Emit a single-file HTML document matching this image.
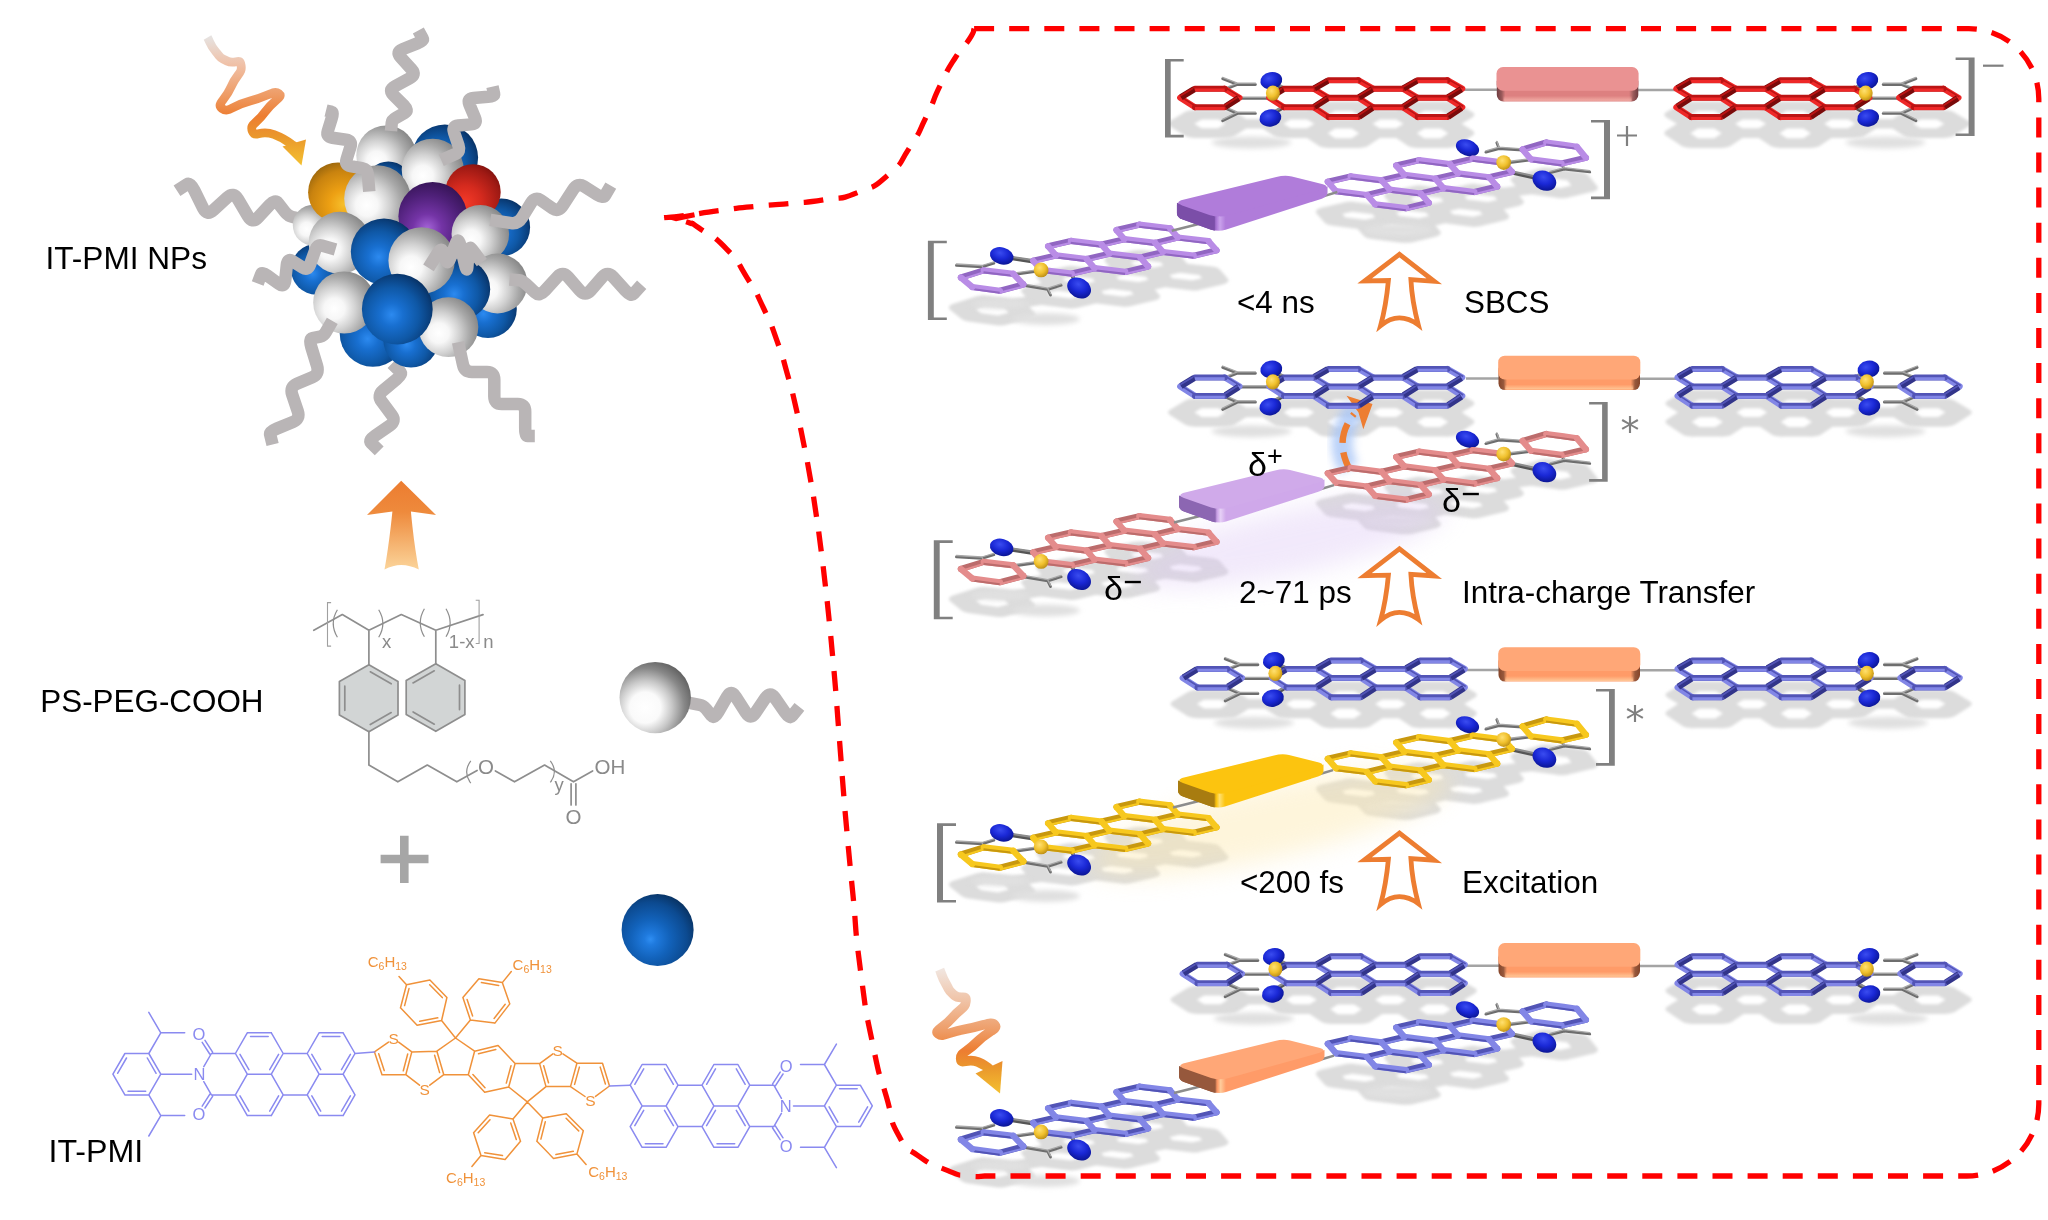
<!DOCTYPE html><html><head><meta charset="utf-8"><title>IT-PMI NPs</title><style>html,body{margin:0;padding:0;background:#fff}body{width:2048px;height:1220px;overflow:hidden;font-family:"Liberation Sans",sans-serif}</style></head><body><svg width="2048" height="1220" viewBox="0 0 2048 1220" style="display:block" font-family="Liberation Sans, sans-serif">
<defs>
<radialGradient id="gO" cx="0.4" cy="0.35" r="0.7"><stop offset="0" stop-color="#3a4cf0"/><stop offset="0.5" stop-color="#1a28d6"/><stop offset="1" stop-color="#0a1490"/></radialGradient>
<radialGradient id="gN" cx="0.4" cy="0.35" r="0.7"><stop offset="0" stop-color="#ffe070"/><stop offset="0.55" stop-color="#f0c02c"/><stop offset="1" stop-color="#b88a14"/></radialGradient>
<filter id="blur2" x="-10%" y="-30%" width="120%" height="160%"><feGaussianBlur stdDeviation="1.6"/></filter>
<filter id="blur3" x="-20%" y="-100%" width="140%" height="300%"><feGaussianBlur stdDeviation="2.6"/></filter>
<filter id="blur4" x="-100%" y="-50%" width="300%" height="200%"><feGaussianBlur stdDeviation="4"/></filter>
<filter id="blur12" x="-30%" y="-60%" width="160%" height="220%"><feGaussianBlur stdDeviation="12"/></filter>
</defs>

<defs><linearGradient id="gb_orange" x1="0" y1="0" x2="1" y2="0"><stop offset="0" stop-color="#85452a"/><stop offset="0.035" stop-color="#96583c"/><stop offset="0.06" stop-color="#ff9b68"/><stop offset="0.935" stop-color="#ff9b68"/><stop offset="0.965" stop-color="#96583c"/><stop offset="1" stop-color="#85452a"/></linearGradient><linearGradient id="gh_orange" x1="0" y1="0" x2="0" y2="1"><stop offset="0" stop-color="#ffcc9c" stop-opacity="0"/><stop offset="1" stop-color="#ffcc9c" stop-opacity="0.9"/></linearGradient><linearGradient id="gt_orange" gradientUnits="userSpaceOnUse" x1="1214" y1="0" x2="1226" y2="0"><stop offset="0" stop-color="#96583c"/><stop offset="0.3" stop-color="#ff9b68"/><stop offset="0.55" stop-color="#ffcc9c" stop-opacity="1"/><stop offset="1" stop-color="#ff9b68"/></linearGradient><linearGradient id="gb_rose" x1="0" y1="0" x2="1" y2="0"><stop offset="0" stop-color="#6e3c40"/><stop offset="0.035" stop-color="#9a5a5a"/><stop offset="0.06" stop-color="#dd8080"/><stop offset="0.935" stop-color="#dd8080"/><stop offset="0.965" stop-color="#9a5a5a"/><stop offset="1" stop-color="#6e3c40"/></linearGradient><linearGradient id="gh_rose" x1="0" y1="0" x2="0" y2="1"><stop offset="0" stop-color="#f4b0a8" stop-opacity="0"/><stop offset="1" stop-color="#f4b0a8" stop-opacity="0.9"/></linearGradient><linearGradient id="gt_rose" gradientUnits="userSpaceOnUse" x1="1214" y1="0" x2="1226" y2="0"><stop offset="0" stop-color="#9a5a5a"/><stop offset="0.3" stop-color="#dd8080"/><stop offset="0.55" stop-color="#f4b0a8" stop-opacity="1"/><stop offset="1" stop-color="#dd8080"/></linearGradient><linearGradient id="gb_purple" x1="0" y1="0" x2="1" y2="0"><stop offset="0" stop-color="#6a4494"/><stop offset="0.035" stop-color="#7b4ea8"/><stop offset="0.06" stop-color="#b07cda"/><stop offset="0.935" stop-color="#b07cda"/><stop offset="0.965" stop-color="#7b4ea8"/><stop offset="1" stop-color="#6a4494"/></linearGradient><linearGradient id="gh_purple" x1="0" y1="0" x2="0" y2="1"><stop offset="0" stop-color="#caa2ec" stop-opacity="0"/><stop offset="1" stop-color="#caa2ec" stop-opacity="0.9"/></linearGradient><linearGradient id="gt_purple" gradientUnits="userSpaceOnUse" x1="1214" y1="0" x2="1226" y2="0"><stop offset="0" stop-color="#7b4ea8"/><stop offset="0.3" stop-color="#b07cda"/><stop offset="0.55" stop-color="#caa2ec" stop-opacity="1"/><stop offset="1" stop-color="#b07cda"/></linearGradient><linearGradient id="gb_lilac" x1="0" y1="0" x2="1" y2="0"><stop offset="0" stop-color="#7a5a9c"/><stop offset="0.035" stop-color="#8c66b2"/><stop offset="0.06" stop-color="#cfa8ea"/><stop offset="0.935" stop-color="#cfa8ea"/><stop offset="0.965" stop-color="#8c66b2"/><stop offset="1" stop-color="#7a5a9c"/></linearGradient><linearGradient id="gh_lilac" x1="0" y1="0" x2="0" y2="1"><stop offset="0" stop-color="#e6d0f6" stop-opacity="0"/><stop offset="1" stop-color="#e6d0f6" stop-opacity="0.9"/></linearGradient><linearGradient id="gt_lilac" gradientUnits="userSpaceOnUse" x1="1214" y1="0" x2="1226" y2="0"><stop offset="0" stop-color="#8c66b2"/><stop offset="0.3" stop-color="#cfa8ea"/><stop offset="0.55" stop-color="#e6d0f6" stop-opacity="1"/><stop offset="1" stop-color="#cfa8ea"/></linearGradient><linearGradient id="gb_yellow" x1="0" y1="0" x2="1" y2="0"><stop offset="0" stop-color="#8a640a"/><stop offset="0.035" stop-color="#a87c10"/><stop offset="0.06" stop-color="#fcc40f"/><stop offset="0.935" stop-color="#fcc40f"/><stop offset="0.965" stop-color="#a87c10"/><stop offset="1" stop-color="#8a640a"/></linearGradient><linearGradient id="gh_yellow" x1="0" y1="0" x2="0" y2="1"><stop offset="0" stop-color="#ffe070" stop-opacity="0"/><stop offset="1" stop-color="#ffe070" stop-opacity="0.9"/></linearGradient><linearGradient id="gt_yellow" gradientUnits="userSpaceOnUse" x1="1214" y1="0" x2="1226" y2="0"><stop offset="0" stop-color="#a87c10"/><stop offset="0.3" stop-color="#fcc40f"/><stop offset="0.55" stop-color="#ffe070" stop-opacity="1"/><stop offset="1" stop-color="#fcc40f"/></linearGradient></defs>
<g filter="url(#blur2)"><g transform="translate(-2.5,-876)"><path d="M1331.1 2499.2L1316.2 2476.8 M1316.2 2476.8L1286.5 2476.8 M1286.5 2476.8L1271.7 2499.2 M1271.7 2499.2L1286.5 2522.9 M1286.5 2522.9L1316.2 2522.9 M1316.2 2522.9L1331.1 2499.2 M1375.7 2476.8L1360.8 2455.5 M1360.8 2455.5L1331.1 2455.5 M1331.1 2455.5L1316.2 2476.8 M1331.1 2499.2L1360.8 2499.2 M1360.8 2499.2L1375.7 2476.8 M1375.7 2522.9L1360.8 2499.2 M1316.2 2522.9L1331.1 2547.8 M1331.1 2547.8L1360.8 2547.8 M1360.8 2547.8L1375.7 2522.9 M1464.8 2476.8L1449.9 2455.5 M1449.9 2455.5L1420.2 2455.5 M1420.2 2455.5L1405.3 2476.8 M1405.3 2476.8L1420.2 2499.2 M1420.2 2499.2L1449.9 2499.2 M1449.9 2499.2L1464.8 2476.8 M1464.8 2522.9L1449.9 2499.2 M1420.2 2499.2L1405.3 2522.9 M1405.3 2522.9L1420.2 2547.8 M1420.2 2547.8L1449.9 2547.8 M1449.9 2547.8L1464.8 2522.9 M1405.3 2476.8L1375.7 2476.8 M1375.7 2522.9L1405.3 2522.9 M1242 2499.2L1227.2 2476.8 M1227.2 2476.8L1197.5 2476.8 M1197.5 2476.8L1182.6 2499.2 M1182.6 2499.2L1197.5 2522.9 M1197.5 2522.9L1227.2 2522.9 M1227.2 2522.9L1242 2499.2 M1271.7 2499.2L1242 2499.2" stroke="#dcdcdc" stroke-width="24" fill="none" stroke-linecap="round" stroke-linejoin="round" transform="scale(1,0.4)"/></g><g transform="translate(-1.2,-876)"><path d="M1811.2 2499.2L1826 2476.8 M1826 2476.8L1855.8 2476.8 M1855.8 2476.8L1870.6 2499.2 M1870.6 2499.2L1855.8 2522.9 M1855.8 2522.9L1826 2522.9 M1826 2522.9L1811.2 2499.2 M1766.6 2476.8L1781.5 2455.5 M1781.5 2455.5L1811.2 2455.5 M1811.2 2455.5L1826 2476.8 M1811.2 2499.2L1781.5 2499.2 M1781.5 2499.2L1766.6 2476.8 M1766.6 2522.9L1781.5 2499.2 M1826 2522.9L1811.2 2547.8 M1811.2 2547.8L1781.5 2547.8 M1781.5 2547.8L1766.6 2522.9 M1677.5 2476.8L1692.4 2455.5 M1692.4 2455.5L1722.1 2455.5 M1722.1 2455.5L1737 2476.8 M1737 2476.8L1722.1 2499.2 M1722.1 2499.2L1692.4 2499.2 M1692.4 2499.2L1677.5 2476.8 M1677.5 2522.9L1692.4 2499.2 M1722.1 2499.2L1737 2522.9 M1737 2522.9L1722.1 2547.8 M1722.1 2547.8L1692.4 2547.8 M1692.4 2547.8L1677.5 2522.9 M1737 2476.8L1766.6 2476.8 M1766.6 2522.9L1737 2522.9 M1900.3 2499.2L1915.1 2476.8 M1915.1 2476.8L1944.8 2476.8 M1944.8 2476.8L1959.7 2499.2 M1959.7 2499.2L1944.8 2522.9 M1944.8 2522.9L1915.1 2522.9 M1915.1 2522.9L1900.3 2499.2 M1870.6 2499.2L1900.3 2499.2" stroke="#dcdcdc" stroke-width="24" fill="none" stroke-linecap="round" stroke-linejoin="round" transform="scale(1,0.4)"/></g></g>
<g filter="url(#blur2)"><g transform="translate(0,-862)"><path d="M1086.7 2877.7L1056 2868.5 M1056 2868.5L1033.2 2882 M1033.2 2882L1041.1 2904.7 M1041.1 2904.7L1071.8 2914 M1071.8 2914L1094.6 2900.5 M1094.6 2900.5L1086.7 2877.7 M1101.6 2841.5L1070.9 2832.3 M1070.9 2832.3L1048.1 2845.8 M1048.1 2845.8L1056 2868.5 M1086.7 2877.7L1109.5 2864.2 M1109.5 2864.2L1101.6 2841.5 M1140.2 2873.5L1109.5 2864.2 M1094.6 2900.5L1125.3 2909.7 M1125.3 2909.7L1148.1 2896.2 M1148.1 2896.2L1140.2 2873.5 M1170 2801L1139.3 2791.8 M1139.3 2791.8L1116.5 2805.3 M1116.5 2805.3L1124.4 2828 M1124.4 2828L1155.1 2837.2 M1155.1 2837.2L1177.9 2823.8 M1177.9 2823.8L1170 2801 M1208.6 2833L1177.9 2823.8 M1155.1 2837.2L1163 2860 M1163 2860L1193.7 2869.2 M1193.7 2869.2L1216.5 2855.7 M1216.5 2855.7L1208.6 2833 M1124.4 2828L1101.6 2841.5 M1140.2 2873.5L1163 2860 M1013.3 2914.5L983.7 2906 M983.7 2906L960.9 2923.9 M960.9 2923.9L972.3 2947.4 M972.3 2947.4L999.9 2956.8 M999.9 2956.8L1023.4 2941.4 M1023.4 2941.4L1013.3 2914.5 M1041.1 2904.7L1013.3 2914.5" stroke="#dcdcdc" stroke-width="24" fill="none" stroke-linecap="round" stroke-linejoin="round" transform="scale(1,0.4)"/></g><g transform="translate(0,-862)"><path d="M1458.1 2663.5L1449.9 2640.3 M1449.9 2640.3L1472.7 2626.8 M1472.7 2626.8L1503.7 2636.5 M1503.7 2636.5L1511.9 2659.7 M1511.9 2659.7L1489.1 2673.2 M1489.1 2673.2L1458.1 2663.5 M1404.3 2667.3L1396.2 2644.1 M1396.2 2644.1L1419 2630.6 M1419 2630.6L1449.9 2640.3 M1458.1 2663.5L1435.3 2677 M1435.3 2677L1404.3 2667.3 M1443.5 2700.2L1435.3 2677 M1489.1 2673.2L1497.2 2696.4 M1497.2 2696.4L1474.4 2709.9 M1474.4 2709.9L1443.5 2700.2 M1335.9 2707.8L1327.8 2684.6 M1327.8 2684.6L1350.6 2671.1 M1350.6 2671.1L1381.5 2680.8 M1381.5 2680.8L1389.7 2704 M1389.7 2704L1366.9 2717.5 M1366.9 2717.5L1335.9 2707.8 M1375.1 2740.7L1366.9 2717.5 M1389.7 2704L1420.7 2713.7 M1420.7 2713.7L1428.8 2736.9 M1428.8 2736.9L1406 2750.4 M1406 2750.4L1375.1 2740.7 M1381.5 2680.8L1404.3 2667.3 M1443.5 2700.2L1420.7 2713.7 M1530.9 2627.9L1522.6 2603.6 M1522.6 2603.6L1546.2 2586.2 M1546.2 2586.2L1576.9 2596.6 M1576.9 2596.6L1585.9 2624.5 M1585.9 2624.5L1561.6 2638.4 M1561.6 2638.4L1530.9 2627.9 M1503.7 2636.5L1530.9 2627.9" stroke="#dcdcdc" stroke-width="24" fill="none" stroke-linecap="round" stroke-linejoin="round" transform="scale(1,0.4)"/></g></g>
<g filter="url(#blur3)" fill="#e0e0e0"><ellipse cx="1251.5" cy="142.5" rx="40" ry="6"/><ellipse cx="1885.5" cy="142.5" rx="40" ry="6"/><ellipse cx="1046" cy="319" rx="34" ry="6"/><ellipse cx="1398" cy="230" rx="34" ry="6.500"/><ellipse cx="1000" cy="304" rx="30" ry="5"/></g>
<g filter="url(#blur2)"><g transform="translate(-2.5,-587.3)"><path d="M1331.1 2499.2L1316.2 2476.8 M1316.2 2476.8L1286.5 2476.8 M1286.5 2476.8L1271.7 2499.2 M1271.7 2499.2L1286.5 2522.9 M1286.5 2522.9L1316.2 2522.9 M1316.2 2522.9L1331.1 2499.2 M1375.7 2476.8L1360.8 2455.5 M1360.8 2455.5L1331.1 2455.5 M1331.1 2455.5L1316.2 2476.8 M1331.1 2499.2L1360.8 2499.2 M1360.8 2499.2L1375.7 2476.8 M1375.7 2522.9L1360.8 2499.2 M1316.2 2522.9L1331.1 2547.8 M1331.1 2547.8L1360.8 2547.8 M1360.8 2547.8L1375.7 2522.9 M1464.8 2476.8L1449.9 2455.5 M1449.9 2455.5L1420.2 2455.5 M1420.2 2455.5L1405.3 2476.8 M1405.3 2476.8L1420.2 2499.2 M1420.2 2499.2L1449.9 2499.2 M1449.9 2499.2L1464.8 2476.8 M1464.8 2522.9L1449.9 2499.2 M1420.2 2499.2L1405.3 2522.9 M1405.3 2522.9L1420.2 2547.8 M1420.2 2547.8L1449.9 2547.8 M1449.9 2547.8L1464.8 2522.9 M1405.3 2476.8L1375.7 2476.8 M1375.7 2522.9L1405.3 2522.9 M1242 2499.2L1227.2 2476.8 M1227.2 2476.8L1197.5 2476.8 M1197.5 2476.8L1182.6 2499.2 M1182.6 2499.2L1197.5 2522.9 M1197.5 2522.9L1227.2 2522.9 M1227.2 2522.9L1242 2499.2 M1271.7 2499.2L1242 2499.2" stroke="#dcdcdc" stroke-width="24" fill="none" stroke-linecap="round" stroke-linejoin="round" transform="scale(1,0.4)"/></g><g transform="translate(0,-587.3)"><path d="M1811.2 2499.2L1826 2476.8 M1826 2476.8L1855.8 2476.8 M1855.8 2476.8L1870.6 2499.2 M1870.6 2499.2L1855.8 2522.9 M1855.8 2522.9L1826 2522.9 M1826 2522.9L1811.2 2499.2 M1766.6 2476.8L1781.5 2455.5 M1781.5 2455.5L1811.2 2455.5 M1811.2 2455.5L1826 2476.8 M1811.2 2499.2L1781.5 2499.2 M1781.5 2499.2L1766.6 2476.8 M1766.6 2522.9L1781.5 2499.2 M1826 2522.9L1811.2 2547.8 M1811.2 2547.8L1781.5 2547.8 M1781.5 2547.8L1766.6 2522.9 M1677.5 2476.8L1692.4 2455.5 M1692.4 2455.5L1722.1 2455.5 M1722.1 2455.5L1737 2476.8 M1737 2476.8L1722.1 2499.2 M1722.1 2499.2L1692.4 2499.2 M1692.4 2499.2L1677.5 2476.8 M1677.5 2522.9L1692.4 2499.2 M1722.1 2499.2L1737 2522.9 M1737 2522.9L1722.1 2547.8 M1722.1 2547.8L1692.4 2547.8 M1692.4 2547.8L1677.5 2522.9 M1737 2476.8L1766.6 2476.8 M1766.6 2522.9L1737 2522.9 M1900.3 2499.2L1915.1 2476.8 M1915.1 2476.8L1944.8 2476.8 M1944.8 2476.8L1959.7 2499.2 M1959.7 2499.2L1944.8 2522.9 M1944.8 2522.9L1915.1 2522.9 M1915.1 2522.9L1900.3 2499.2 M1870.6 2499.2L1900.3 2499.2" stroke="#dcdcdc" stroke-width="24" fill="none" stroke-linecap="round" stroke-linejoin="round" transform="scale(1,0.4)"/></g></g>
<g filter="url(#blur2)"><g transform="translate(0,-570.5)"><path d="M1086.7 2877.7L1056 2868.5 M1056 2868.5L1033.2 2882 M1033.2 2882L1041.1 2904.7 M1041.1 2904.7L1071.8 2914 M1071.8 2914L1094.6 2900.5 M1094.6 2900.5L1086.7 2877.7 M1101.6 2841.5L1070.9 2832.3 M1070.9 2832.3L1048.1 2845.8 M1048.1 2845.8L1056 2868.5 M1086.7 2877.7L1109.5 2864.2 M1109.5 2864.2L1101.6 2841.5 M1140.2 2873.5L1109.5 2864.2 M1094.6 2900.5L1125.3 2909.7 M1125.3 2909.7L1148.1 2896.2 M1148.1 2896.2L1140.2 2873.5 M1170 2801L1139.3 2791.8 M1139.3 2791.8L1116.5 2805.3 M1116.5 2805.3L1124.4 2828 M1124.4 2828L1155.1 2837.2 M1155.1 2837.2L1177.9 2823.8 M1177.9 2823.8L1170 2801 M1208.6 2833L1177.9 2823.8 M1155.1 2837.2L1163 2860 M1163 2860L1193.7 2869.2 M1193.7 2869.2L1216.5 2855.7 M1216.5 2855.7L1208.6 2833 M1124.4 2828L1101.6 2841.5 M1140.2 2873.5L1163 2860 M1013.3 2914.5L983.7 2906 M983.7 2906L960.9 2923.9 M960.9 2923.9L972.3 2947.4 M972.3 2947.4L999.9 2956.8 M999.9 2956.8L1023.4 2941.4 M1023.4 2941.4L1013.3 2914.5 M1041.1 2904.7L1013.3 2914.5" stroke="#dcdcdc" stroke-width="24" fill="none" stroke-linecap="round" stroke-linejoin="round" transform="scale(1,0.4)"/></g><g transform="translate(0,-570.5)"><path d="M1458.1 2663.5L1449.9 2640.3 M1449.9 2640.3L1472.7 2626.8 M1472.7 2626.8L1503.7 2636.5 M1503.7 2636.5L1511.9 2659.7 M1511.9 2659.7L1489.1 2673.2 M1489.1 2673.2L1458.1 2663.5 M1404.3 2667.3L1396.2 2644.1 M1396.2 2644.1L1419 2630.6 M1419 2630.6L1449.9 2640.3 M1458.1 2663.5L1435.3 2677 M1435.3 2677L1404.3 2667.3 M1443.5 2700.2L1435.3 2677 M1489.1 2673.2L1497.2 2696.4 M1497.2 2696.4L1474.4 2709.9 M1474.4 2709.9L1443.5 2700.2 M1335.9 2707.8L1327.8 2684.6 M1327.8 2684.6L1350.6 2671.1 M1350.6 2671.1L1381.5 2680.8 M1381.5 2680.8L1389.7 2704 M1389.7 2704L1366.9 2717.5 M1366.9 2717.5L1335.9 2707.8 M1375.1 2740.7L1366.9 2717.5 M1389.7 2704L1420.7 2713.7 M1420.7 2713.7L1428.8 2736.9 M1428.8 2736.9L1406 2750.4 M1406 2750.4L1375.1 2740.7 M1381.5 2680.8L1404.3 2667.3 M1443.5 2700.2L1420.7 2713.7 M1530.9 2627.9L1522.6 2603.6 M1522.6 2603.6L1546.2 2586.2 M1546.2 2586.2L1576.9 2596.6 M1576.9 2596.6L1585.9 2624.5 M1585.9 2624.5L1561.6 2638.4 M1561.6 2638.4L1530.9 2627.9 M1503.7 2636.5L1530.9 2627.9" stroke="#dcdcdc" stroke-width="24" fill="none" stroke-linecap="round" stroke-linejoin="round" transform="scale(1,0.4)"/></g></g>
<g filter="url(#blur3)" fill="#e0e0e0"><ellipse cx="1251.5" cy="431.2" rx="40" ry="6"/><ellipse cx="1885.5" cy="431.2" rx="40" ry="6"/><ellipse cx="1046" cy="610.5" rx="34" ry="6"/><ellipse cx="1398" cy="521.5" rx="34" ry="6.500"/><ellipse cx="1000" cy="595.5" rx="30" ry="5"/></g>
<g filter="url(#blur2)"><g transform="translate(0,-295.8)"><path d="M1331.1 2499.2L1316.2 2476.8 M1316.2 2476.8L1286.5 2476.8 M1286.5 2476.8L1271.7 2499.2 M1271.7 2499.2L1286.5 2522.9 M1286.5 2522.9L1316.2 2522.9 M1316.2 2522.9L1331.1 2499.2 M1375.7 2476.8L1360.8 2455.5 M1360.8 2455.5L1331.1 2455.5 M1331.1 2455.5L1316.2 2476.8 M1331.1 2499.2L1360.8 2499.2 M1360.8 2499.2L1375.7 2476.8 M1375.7 2522.9L1360.8 2499.2 M1316.2 2522.9L1331.1 2547.8 M1331.1 2547.8L1360.8 2547.8 M1360.8 2547.8L1375.7 2522.9 M1464.8 2476.8L1449.9 2455.5 M1449.9 2455.5L1420.2 2455.5 M1420.2 2455.5L1405.3 2476.8 M1405.3 2476.8L1420.2 2499.2 M1420.2 2499.2L1449.9 2499.2 M1449.9 2499.2L1464.8 2476.8 M1464.8 2522.9L1449.9 2499.2 M1420.2 2499.2L1405.3 2522.9 M1405.3 2522.9L1420.2 2547.8 M1420.2 2547.8L1449.9 2547.8 M1449.9 2547.8L1464.8 2522.9 M1405.3 2476.8L1375.7 2476.8 M1375.7 2522.9L1405.3 2522.9 M1242 2499.2L1227.2 2476.8 M1227.2 2476.8L1197.5 2476.8 M1197.5 2476.8L1182.6 2499.2 M1182.6 2499.2L1197.5 2522.9 M1197.5 2522.9L1227.2 2522.9 M1227.2 2522.9L1242 2499.2 M1271.7 2499.2L1242 2499.2" stroke="#dcdcdc" stroke-width="24" fill="none" stroke-linecap="round" stroke-linejoin="round" transform="scale(1,0.4)"/></g><g transform="translate(0,-295.8)"><path d="M1811.2 2499.2L1826 2476.8 M1826 2476.8L1855.8 2476.8 M1855.8 2476.8L1870.6 2499.2 M1870.6 2499.2L1855.8 2522.9 M1855.8 2522.9L1826 2522.9 M1826 2522.9L1811.2 2499.2 M1766.6 2476.8L1781.5 2455.5 M1781.5 2455.5L1811.2 2455.5 M1811.2 2455.5L1826 2476.8 M1811.2 2499.2L1781.5 2499.2 M1781.5 2499.2L1766.6 2476.8 M1766.6 2522.9L1781.5 2499.2 M1826 2522.9L1811.2 2547.8 M1811.2 2547.8L1781.5 2547.8 M1781.5 2547.8L1766.6 2522.9 M1677.5 2476.8L1692.4 2455.5 M1692.4 2455.5L1722.1 2455.5 M1722.1 2455.5L1737 2476.8 M1737 2476.8L1722.1 2499.2 M1722.1 2499.2L1692.4 2499.2 M1692.4 2499.2L1677.5 2476.8 M1677.5 2522.9L1692.4 2499.2 M1722.1 2499.2L1737 2522.9 M1737 2522.9L1722.1 2547.8 M1722.1 2547.8L1692.4 2547.8 M1692.4 2547.8L1677.5 2522.9 M1737 2476.8L1766.6 2476.8 M1766.6 2522.9L1737 2522.9 M1900.3 2499.2L1915.1 2476.8 M1915.1 2476.8L1944.8 2476.8 M1944.8 2476.8L1959.7 2499.2 M1959.7 2499.2L1944.8 2522.9 M1944.8 2522.9L1915.1 2522.9 M1915.1 2522.9L1900.3 2499.2 M1870.6 2499.2L1900.3 2499.2" stroke="#dcdcdc" stroke-width="24" fill="none" stroke-linecap="round" stroke-linejoin="round" transform="scale(1,0.4)"/></g></g>
<g filter="url(#blur2)"><g transform="translate(0,-285)"><path d="M1086.7 2877.7L1056 2868.5 M1056 2868.5L1033.2 2882 M1033.2 2882L1041.1 2904.7 M1041.1 2904.7L1071.8 2914 M1071.8 2914L1094.6 2900.5 M1094.6 2900.5L1086.7 2877.7 M1101.6 2841.5L1070.9 2832.3 M1070.9 2832.3L1048.1 2845.8 M1048.1 2845.8L1056 2868.5 M1086.7 2877.7L1109.5 2864.2 M1109.5 2864.2L1101.6 2841.5 M1140.2 2873.5L1109.5 2864.2 M1094.6 2900.5L1125.3 2909.7 M1125.3 2909.7L1148.1 2896.2 M1148.1 2896.2L1140.2 2873.5 M1170 2801L1139.3 2791.8 M1139.3 2791.8L1116.5 2805.3 M1116.5 2805.3L1124.4 2828 M1124.4 2828L1155.1 2837.2 M1155.1 2837.2L1177.9 2823.8 M1177.9 2823.8L1170 2801 M1208.6 2833L1177.9 2823.8 M1155.1 2837.2L1163 2860 M1163 2860L1193.7 2869.2 M1193.7 2869.2L1216.5 2855.7 M1216.5 2855.7L1208.6 2833 M1124.4 2828L1101.6 2841.5 M1140.2 2873.5L1163 2860 M1013.3 2914.5L983.7 2906 M983.7 2906L960.9 2923.9 M960.9 2923.9L972.3 2947.4 M972.3 2947.4L999.9 2956.8 M999.9 2956.8L1023.4 2941.4 M1023.4 2941.4L1013.3 2914.5 M1041.1 2904.7L1013.3 2914.5" stroke="#dcdcdc" stroke-width="24" fill="none" stroke-linecap="round" stroke-linejoin="round" transform="scale(1,0.4)"/></g><g transform="translate(0,-285)"><path d="M1458.1 2663.5L1449.9 2640.3 M1449.9 2640.3L1472.7 2626.8 M1472.7 2626.8L1503.7 2636.5 M1503.7 2636.5L1511.9 2659.7 M1511.9 2659.7L1489.1 2673.2 M1489.1 2673.2L1458.1 2663.5 M1404.3 2667.3L1396.2 2644.1 M1396.2 2644.1L1419 2630.6 M1419 2630.6L1449.9 2640.3 M1458.1 2663.5L1435.3 2677 M1435.3 2677L1404.3 2667.3 M1443.5 2700.2L1435.3 2677 M1489.1 2673.2L1497.2 2696.4 M1497.2 2696.4L1474.4 2709.9 M1474.4 2709.9L1443.5 2700.2 M1335.9 2707.8L1327.8 2684.6 M1327.8 2684.6L1350.6 2671.1 M1350.6 2671.1L1381.5 2680.8 M1381.5 2680.8L1389.7 2704 M1389.7 2704L1366.9 2717.5 M1366.9 2717.5L1335.9 2707.8 M1375.1 2740.7L1366.9 2717.5 M1389.7 2704L1420.7 2713.7 M1420.7 2713.7L1428.8 2736.9 M1428.8 2736.9L1406 2750.4 M1406 2750.4L1375.1 2740.7 M1381.5 2680.8L1404.3 2667.3 M1443.5 2700.2L1420.7 2713.7 M1530.9 2627.9L1522.6 2603.6 M1522.6 2603.6L1546.2 2586.2 M1546.2 2586.2L1576.9 2596.6 M1576.9 2596.6L1585.9 2624.5 M1585.9 2624.5L1561.6 2638.4 M1561.6 2638.4L1530.9 2627.9 M1503.7 2636.5L1530.9 2627.9" stroke="#dcdcdc" stroke-width="24" fill="none" stroke-linecap="round" stroke-linejoin="round" transform="scale(1,0.4)"/></g></g>
<g filter="url(#blur3)" fill="#e0e0e0"><ellipse cx="1254" cy="722.7" rx="40" ry="6"/><ellipse cx="1888" cy="722.7" rx="40" ry="6"/><ellipse cx="1046" cy="896" rx="34" ry="6"/><ellipse cx="1398" cy="807" rx="34" ry="6.500"/><ellipse cx="1000" cy="881" rx="30" ry="5"/></g>
<g filter="url(#blur2)"><g transform="translate(0,0)"><path d="M1331.1 2499.2L1316.2 2476.8 M1316.2 2476.8L1286.5 2476.8 M1286.5 2476.8L1271.7 2499.2 M1271.7 2499.2L1286.5 2522.9 M1286.5 2522.9L1316.2 2522.9 M1316.2 2522.9L1331.1 2499.2 M1375.7 2476.8L1360.8 2455.5 M1360.8 2455.5L1331.1 2455.5 M1331.1 2455.5L1316.2 2476.8 M1331.1 2499.2L1360.8 2499.2 M1360.8 2499.2L1375.7 2476.8 M1375.7 2522.9L1360.8 2499.2 M1316.2 2522.9L1331.1 2547.8 M1331.1 2547.8L1360.8 2547.8 M1360.8 2547.8L1375.7 2522.9 M1464.8 2476.8L1449.9 2455.5 M1449.9 2455.5L1420.2 2455.5 M1420.2 2455.5L1405.3 2476.8 M1405.3 2476.8L1420.2 2499.2 M1420.2 2499.2L1449.9 2499.2 M1449.9 2499.2L1464.8 2476.8 M1464.8 2522.9L1449.9 2499.2 M1420.2 2499.2L1405.3 2522.9 M1405.3 2522.9L1420.2 2547.8 M1420.2 2547.8L1449.9 2547.8 M1449.9 2547.8L1464.8 2522.9 M1405.3 2476.8L1375.7 2476.8 M1375.7 2522.9L1405.3 2522.9 M1242 2499.2L1227.2 2476.8 M1227.2 2476.8L1197.5 2476.8 M1197.5 2476.8L1182.6 2499.2 M1182.6 2499.2L1197.5 2522.9 M1197.5 2522.9L1227.2 2522.9 M1227.2 2522.9L1242 2499.2 M1271.7 2499.2L1242 2499.2" stroke="#dcdcdc" stroke-width="24" fill="none" stroke-linecap="round" stroke-linejoin="round" transform="scale(1,0.4)"/></g><g transform="translate(0,0)"><path d="M1811.2 2499.2L1826 2476.8 M1826 2476.8L1855.8 2476.8 M1855.8 2476.8L1870.6 2499.2 M1870.6 2499.2L1855.8 2522.9 M1855.8 2522.9L1826 2522.9 M1826 2522.9L1811.2 2499.2 M1766.6 2476.8L1781.5 2455.5 M1781.5 2455.5L1811.2 2455.5 M1811.2 2455.5L1826 2476.8 M1811.2 2499.2L1781.5 2499.2 M1781.5 2499.2L1766.6 2476.8 M1766.6 2522.9L1781.5 2499.2 M1826 2522.9L1811.2 2547.8 M1811.2 2547.8L1781.5 2547.8 M1781.5 2547.8L1766.6 2522.9 M1677.5 2476.8L1692.4 2455.5 M1692.4 2455.5L1722.1 2455.5 M1722.1 2455.5L1737 2476.8 M1737 2476.8L1722.1 2499.2 M1722.1 2499.2L1692.4 2499.2 M1692.4 2499.2L1677.5 2476.8 M1677.5 2522.9L1692.4 2499.2 M1722.1 2499.2L1737 2522.9 M1737 2522.9L1722.1 2547.8 M1722.1 2547.8L1692.4 2547.8 M1692.4 2547.8L1677.5 2522.9 M1737 2476.8L1766.6 2476.8 M1766.6 2522.9L1737 2522.9 M1900.3 2499.2L1915.1 2476.8 M1915.1 2476.8L1944.8 2476.8 M1944.8 2476.8L1959.7 2499.2 M1959.7 2499.2L1944.8 2522.9 M1944.8 2522.9L1915.1 2522.9 M1915.1 2522.9L1900.3 2499.2 M1870.6 2499.2L1900.3 2499.2" stroke="#dcdcdc" stroke-width="24" fill="none" stroke-linecap="round" stroke-linejoin="round" transform="scale(1,0.4)"/></g></g>
<g filter="url(#blur2)"><g transform="translate(0,0)"><path d="M1086.7 2877.7L1056 2868.5 M1056 2868.5L1033.2 2882 M1033.2 2882L1041.1 2904.7 M1041.1 2904.7L1071.8 2914 M1071.8 2914L1094.6 2900.5 M1094.6 2900.5L1086.7 2877.7 M1101.6 2841.5L1070.9 2832.3 M1070.9 2832.3L1048.1 2845.8 M1048.1 2845.8L1056 2868.5 M1086.7 2877.7L1109.5 2864.2 M1109.5 2864.2L1101.6 2841.5 M1140.2 2873.5L1109.5 2864.2 M1094.6 2900.5L1125.3 2909.7 M1125.3 2909.7L1148.1 2896.2 M1148.1 2896.2L1140.2 2873.5 M1170 2801L1139.3 2791.8 M1139.3 2791.8L1116.5 2805.3 M1116.5 2805.3L1124.4 2828 M1124.4 2828L1155.1 2837.2 M1155.1 2837.2L1177.9 2823.8 M1177.9 2823.8L1170 2801 M1208.6 2833L1177.9 2823.8 M1155.1 2837.2L1163 2860 M1163 2860L1193.7 2869.2 M1193.7 2869.2L1216.5 2855.7 M1216.5 2855.7L1208.6 2833 M1124.4 2828L1101.6 2841.5 M1140.2 2873.5L1163 2860 M1013.3 2914.5L983.7 2906 M983.7 2906L960.9 2923.9 M960.9 2923.9L972.3 2947.4 M972.3 2947.4L999.9 2956.8 M999.9 2956.8L1023.4 2941.4 M1023.4 2941.4L1013.3 2914.5 M1041.1 2904.7L1013.3 2914.5" stroke="#dcdcdc" stroke-width="24" fill="none" stroke-linecap="round" stroke-linejoin="round" transform="scale(1,0.4)"/></g><g transform="translate(0,0)"><path d="M1458.1 2663.5L1449.9 2640.3 M1449.9 2640.3L1472.7 2626.8 M1472.7 2626.8L1503.7 2636.5 M1503.7 2636.5L1511.9 2659.7 M1511.9 2659.7L1489.1 2673.2 M1489.1 2673.2L1458.1 2663.5 M1404.3 2667.3L1396.2 2644.1 M1396.2 2644.1L1419 2630.6 M1419 2630.6L1449.9 2640.3 M1458.1 2663.5L1435.3 2677 M1435.3 2677L1404.3 2667.3 M1443.5 2700.2L1435.3 2677 M1489.1 2673.2L1497.2 2696.4 M1497.2 2696.4L1474.4 2709.9 M1474.4 2709.9L1443.5 2700.2 M1335.9 2707.8L1327.8 2684.6 M1327.8 2684.6L1350.6 2671.1 M1350.6 2671.1L1381.5 2680.8 M1381.5 2680.8L1389.7 2704 M1389.7 2704L1366.9 2717.5 M1366.9 2717.5L1335.9 2707.8 M1375.1 2740.7L1366.9 2717.5 M1389.7 2704L1420.7 2713.7 M1420.7 2713.7L1428.8 2736.9 M1428.8 2736.9L1406 2750.4 M1406 2750.4L1375.1 2740.7 M1381.5 2680.8L1404.3 2667.3 M1443.5 2700.2L1420.7 2713.7 M1530.9 2627.9L1522.6 2603.6 M1522.6 2603.6L1546.2 2586.2 M1546.2 2586.2L1576.9 2596.6 M1576.9 2596.6L1585.9 2624.5 M1585.9 2624.5L1561.6 2638.4 M1561.6 2638.4L1530.9 2627.9 M1503.7 2636.5L1530.9 2627.9" stroke="#dcdcdc" stroke-width="24" fill="none" stroke-linecap="round" stroke-linejoin="round" transform="scale(1,0.4)"/></g></g>
<g filter="url(#blur3)" fill="#e0e0e0"><ellipse cx="1254" cy="1018.5" rx="40" ry="6"/><ellipse cx="1888" cy="1018.5" rx="40" ry="6"/><ellipse cx="1046" cy="1181" rx="34" ry="6"/><ellipse cx="1398" cy="1092" rx="34" ry="6.500"/><ellipse cx="1000" cy="1166" rx="30" ry="5"/></g>
<ellipse cx="1290" cy="542" rx="160" ry="32" fill="#dcc6f4" opacity="0.38" filter="url(#blur12)" transform="rotate(-12 1290 542)"/>
<ellipse cx="1270" cy="822" rx="185" ry="36" fill="#fde9b0" opacity="0.45" filter="url(#blur12)" transform="rotate(-13 1270 822)"/>
<path d="M664.1 217.7 C671 217 666.4 218 684.9 215.6 C703.4 213.2 696.5 213.7 719.7 210.6 C742.9 207.5 731.4 208.8 754.6 206.4 C777.8 204 766.2 205.7 789.4 203.5 C812.6 201.3 801.3 203.5 824.3 199.8 C847.3 196.1 836.9 200.7 858.3 192.3 C879.7 183.9 871.4 189.5 888.5 174.6 C905.6 159.7 896.9 167 909.6 147.6 C922.3 128.2 916.2 137.3 926.5 116.3 C936.8 95.3 930.9 104.2 940.6 84.5 C950.3 64.8 945.9 72.4 955.6 57.2 C965.3 42 963.4 48.3 969.6 38.8 C975.8 29.3 972.6 32.1 974.1 28.7" fill="none" stroke="#ff0000" stroke-width="5.3" stroke-dasharray="20 15.100"/>
<path d="M974.1 28.7 L1968.8 28.7 A70 70 0 0 1 2038.8 98.7 L2038.8 1104 A72 72 0 0 1 1966.8 1176 L985 1176 985 1176  C979.2 1175.9 980 1177.6 967.6 1175.8 C955.2 1174 964.3 1177.3 947.9 1170.6 C931.5 1163.9 934.7 1167.3 918.4 1155.8 C902.1 1144.3 909.7 1155.7 899 1136 C888.3 1116.3 895.1 1127.1 886.4 1096.8 C877.7 1066.5 881.5 1086.8 872.9 1045 C864.3 1003.2 867.2 1021.2 860.6 971.3 C854 921.4 856.7 932.1 853 895.3 C849.3 858.5 851.8 883.9 849.6 860.8 C847.4 837.7 848.5 849.3 846.4 826 C844.3 802.7 845.3 814.2 843.4 790.8 C841.5 767.4 842.5 779 840.7 755.7 C838.9 732.4 839.8 744.1 838 720.8 C836.2 697.5 837.3 709.3 835.3 685.9 C833.3 662.5 834.3 674.1 832.1 650.7 C829.9 627.3 831.1 639.1 828.7 615.8 C826.3 592.5 827.5 603.9 824.8 580.7 C822.1 557.5 823.6 569.4 820.6 546.3 C817.6 523.2 819.2 534.6 815.7 511.4 C812.2 488.2 814.1 499.7 810 476.7 C805.9 453.7 808.1 465.2 803.4 442.3 C798.7 419.4 801.3 430.6 796 407.9 C790.7 385.2 793.7 396.5 787.4 374.2 C781.1 351.9 784.9 362.8 777 340.9 C769.1 319 773.7 329.5 763.7 308.5 C753.7 287.5 759.5 297.7 747.1 277.8 C734.7 257.9 742.4 265.4 726.4 248.8 C710.4 232.2 711.2 236.6 699 228 C686.8 219.4 696.8 225.7 689.8 223 C682.8 220.3 681.9 221 678 220" fill="none" stroke="#ff0000" stroke-width="5.3" stroke-dasharray="20 15.100"/>
<path d="M663.5 217.800 L694 212.300 L695 217.200 L676 221.200 Z" fill="#ff0000"/>
<path d="M1349 468 Q1332 440 1356 408" fill="none" stroke="#a9c6f7" stroke-width="21" stroke-linecap="butt" opacity="0.8" filter="url(#blur4)"/>
<path d="M1350.500 471 Q1333 440 1354 414" fill="none" stroke="#ed7d31" stroke-width="6.4" stroke-dasharray="20 9.500"/>
<path d="M1372.500 404 L1346.500 395.800 L1358.500 412.500 L1363.300 429.300 Z" fill="#ed7d31"/>
<g transform="translate(-1.7,-876)"><line x1="1466" y1="965.8" x2="1500" y2="965.8" stroke="#a4a4a4" stroke-width="2.4"/><line x1="1639" y1="966" x2="1677" y2="966" stroke="#a4a4a4" stroke-width="2.4"/><rect x="1498.5" y="951" width="141.5" height="26.4" rx="6.500" fill="url(#gb_rose)"/><rect x="1505.2" y="971.8" width="128.1" height="5" fill="url(#gh_rose)"/><rect x="1498.2" y="943" width="142.1" height="23.7" rx="6.500" fill="#ea9292"/></g>
<g transform="translate(-2.5,-876)"><path d="M1271.7 973.7L1242 973.7 M1227.2 964.7L1239.9 959.8 M1239.9 959.8L1258 959.8 M1239.9 959.8L1225.1 953.9 M1227.2 983.2L1239.9 988.7 M1239.9 988.7L1258 988.7 M1239.9 988.7L1225.1 996" stroke="#6e6e6e" stroke-width="2.7" fill="none" stroke-linecap="round" stroke-linejoin="round" transform="translate(0,0.8)"/><path d="M1271.7 973.7L1242 973.7 M1227.2 964.7L1239.9 959.8 M1239.9 959.8L1258 959.8 M1239.9 959.8L1225.1 953.9 M1227.2 983.2L1239.9 988.7 M1239.9 988.7L1258 988.7 M1239.9 988.7L1225.1 996" stroke="#a8a8a8" stroke-width="1.3" fill="none" stroke-linecap="round" stroke-linejoin="round" transform="translate(0,-0.6)"/><path d="M1286.5 963.9L1274.7 958 M1286.5 982.3L1274.7 989.1" stroke="#555" stroke-width="3.6" fill="none" stroke-linecap="round" stroke-linejoin="round" transform="translate(0,0.8)"/><path d="M1286.5 963.9L1274.7 958 M1286.5 982.3L1274.7 989.1" stroke="#8c8c8c" stroke-width="2.2" fill="none" stroke-linecap="round" stroke-linejoin="round" transform="translate(0,-0.6)"/><ellipse cx="1273.8" cy="956.6" rx="11" ry="8.6" fill="url(#gO)" transform="rotate(-10 1273.8 956.6)"/><path d="M1242 973.7L1227.2 964.7 M1182.6 973.7L1197.5 983.2" stroke="#ee2828" stroke-width="6" fill="none" stroke-linecap="round"/><path d="M1242 973.7L1227.2 964.7 M1182.6 973.7L1197.5 983.2" stroke="#bc1414" stroke-width="1.5" fill="none" stroke-linecap="butt" transform="translate(0.9,-0.9)"/><path d="M1227.2 964.7L1197.5 964.7 M1197.5 983.2L1227.2 983.2" stroke="#bc1414" stroke-width="6" fill="none" stroke-linecap="round"/><path d="M1227.2 964.7L1197.5 964.7 M1197.5 983.2L1227.2 983.2" stroke="#ee2828" stroke-width="3" fill="none" stroke-linecap="butt" transform="translate(0,1.4)"/><path d="M1196.6 965.3L1183.5 973.2 M1228 982.6L1241.1 974.3" stroke="#7a0a0a" stroke-width="6.4" fill="none" stroke-linecap="butt"/><path d="M1196.6 965.3L1183.5 973.2 M1228 982.6L1241.1 974.3" stroke="#bc1414" stroke-width="1.8" fill="none" stroke-linecap="butt" transform="translate(-1.1,-1.1)"/><path d="M1331.1 973.7L1316.2 964.7 M1271.7 973.7L1286.5 983.2 M1375.7 964.7L1360.8 956.2 M1375.7 983.2L1360.8 973.7 M1316.2 983.2L1331.1 993.1 M1464.8 964.7L1449.9 956.2 M1405.3 964.7L1420.2 973.7 M1464.8 983.2L1449.9 973.7 M1405.3 983.2L1420.2 993.1" stroke="#ee2828" stroke-width="6" fill="none" stroke-linecap="round"/><path d="M1331.1 973.7L1316.2 964.7 M1271.7 973.7L1286.5 983.2 M1375.7 964.7L1360.8 956.2 M1375.7 983.2L1360.8 973.7 M1316.2 983.2L1331.1 993.1 M1464.8 964.7L1449.9 956.2 M1405.3 964.7L1420.2 973.7 M1464.8 983.2L1449.9 973.7 M1405.3 983.2L1420.2 993.1" stroke="#bc1414" stroke-width="1.5" fill="none" stroke-linecap="butt" transform="translate(0.9,-0.9)"/><path d="M1316.2 964.7L1286.5 964.7 M1286.5 983.2L1316.2 983.2 M1360.8 956.2L1331.1 956.2 M1331.1 973.7L1360.8 973.7 M1331.1 993.1L1360.8 993.1 M1449.9 956.2L1420.2 956.2 M1420.2 973.7L1449.9 973.7 M1420.2 993.1L1449.9 993.1 M1405.3 964.7L1375.7 964.7 M1375.7 983.2L1405.3 983.2" stroke="#bc1414" stroke-width="6" fill="none" stroke-linecap="round"/><path d="M1316.2 964.7L1286.5 964.7 M1286.5 983.2L1316.2 983.2 M1360.8 956.2L1331.1 956.2 M1331.1 973.7L1360.8 973.7 M1331.1 993.1L1360.8 993.1 M1449.9 956.2L1420.2 956.2 M1420.2 973.7L1449.9 973.7 M1420.2 993.1L1449.9 993.1 M1405.3 964.7L1375.7 964.7 M1375.7 983.2L1405.3 983.2" stroke="#ee2828" stroke-width="3" fill="none" stroke-linecap="butt" transform="translate(0,1.4)"/><path d="M1285.7 965.3L1272.6 973.2 M1317.1 982.6L1330.2 974.3 M1330.2 956.7L1317.1 964.2 M1361.7 973.2L1374.8 965.3 M1361.7 992.5L1374.8 983.8 M1419.3 956.7L1406.2 964.2 M1450.8 973.2L1463.9 965.3 M1419.3 974.3L1406.2 982.6 M1450.8 992.5L1463.9 983.8" stroke="#7a0a0a" stroke-width="6.4" fill="none" stroke-linecap="butt"/><path d="M1285.7 965.3L1272.6 973.2 M1317.1 982.6L1330.2 974.3 M1330.2 956.7L1317.1 964.2 M1361.7 973.2L1374.8 965.3 M1361.7 992.5L1374.8 983.8 M1419.3 956.7L1406.2 964.2 M1450.8 973.2L1463.9 965.3 M1419.3 974.3L1406.2 982.6 M1450.8 992.5L1463.9 983.8" stroke="#bc1414" stroke-width="1.8" fill="none" stroke-linecap="butt" transform="translate(-1.1,-1.1)"/><ellipse cx="1275.4" cy="969.1" rx="7" ry="7.6" fill="url(#gN)" transform="rotate(0 1275.4 969.1)"/><ellipse cx="1272.9" cy="994" rx="11" ry="8.6" fill="url(#gO)" transform="rotate(-10 1272.9 994)"/></g>
<g transform="translate(-1.2,-876)"><path d="M1870.6 973.7L1900.3 973.7 M1915.1 964.7L1902.4 959.8 M1902.4 959.8L1884.3 959.8 M1902.4 959.8L1917.2 953.9 M1915.1 983.2L1902.4 988.7 M1902.4 988.7L1884.3 988.7 M1902.4 988.7L1917.2 996" stroke="#6e6e6e" stroke-width="2.7" fill="none" stroke-linecap="round" stroke-linejoin="round" transform="translate(0,0.8)"/><path d="M1870.6 973.7L1900.3 973.7 M1915.1 964.7L1902.4 959.8 M1902.4 959.8L1884.3 959.8 M1902.4 959.8L1917.2 953.9 M1915.1 983.2L1902.4 988.7 M1902.4 988.7L1884.3 988.7 M1902.4 988.7L1917.2 996" stroke="#a8a8a8" stroke-width="1.3" fill="none" stroke-linecap="round" stroke-linejoin="round" transform="translate(0,-0.6)"/><path d="M1855.8 963.9L1867.6 958 M1855.8 982.3L1867.6 989.1" stroke="#555" stroke-width="3.6" fill="none" stroke-linecap="round" stroke-linejoin="round" transform="translate(0,0.8)"/><path d="M1855.8 963.9L1867.6 958 M1855.8 982.3L1867.6 989.1" stroke="#8c8c8c" stroke-width="2.2" fill="none" stroke-linecap="round" stroke-linejoin="round" transform="translate(0,-0.6)"/><ellipse cx="1868.5" cy="956.6" rx="11" ry="8.6" fill="url(#gO)" transform="rotate(-10 1868.5 956.6)"/><path d="M1944.8 964.7L1959.7 973.7 M1915.1 983.2L1900.3 973.7" stroke="#ee2828" stroke-width="6" fill="none" stroke-linecap="round"/><path d="M1944.8 964.7L1959.7 973.7 M1915.1 983.2L1900.3 973.7" stroke="#bc1414" stroke-width="1.5" fill="none" stroke-linecap="butt" transform="translate(0.9,-0.9)"/><path d="M1915.1 964.7L1944.8 964.7 M1944.8 983.2L1915.1 983.2" stroke="#bc1414" stroke-width="6" fill="none" stroke-linecap="round"/><path d="M1915.1 964.7L1944.8 964.7 M1944.8 983.2L1915.1 983.2" stroke="#ee2828" stroke-width="3" fill="none" stroke-linecap="butt" transform="translate(0,1.4)"/><path d="M1901.2 973.2L1914.3 965.3 M1958.8 974.3L1945.7 982.6" stroke="#7a0a0a" stroke-width="6.4" fill="none" stroke-linecap="butt"/><path d="M1901.2 973.2L1914.3 965.3 M1958.8 974.3L1945.7 982.6" stroke="#bc1414" stroke-width="1.8" fill="none" stroke-linecap="butt" transform="translate(-1.1,-1.1)"/><path d="M1855.8 964.7L1870.6 973.7 M1826 983.2L1811.2 973.7 M1811.2 956.2L1826 964.7 M1781.5 973.7L1766.6 964.7 M1781.5 993.1L1766.6 983.2 M1722.1 956.2L1737 964.7 M1692.4 973.7L1677.5 964.7 M1722.1 973.7L1737 983.2 M1692.4 993.1L1677.5 983.2" stroke="#ee2828" stroke-width="6" fill="none" stroke-linecap="round"/><path d="M1855.8 964.7L1870.6 973.7 M1826 983.2L1811.2 973.7 M1811.2 956.2L1826 964.7 M1781.5 973.7L1766.6 964.7 M1781.5 993.1L1766.6 983.2 M1722.1 956.2L1737 964.7 M1692.4 973.7L1677.5 964.7 M1722.1 973.7L1737 983.2 M1692.4 993.1L1677.5 983.2" stroke="#bc1414" stroke-width="1.5" fill="none" stroke-linecap="butt" transform="translate(0.9,-0.9)"/><path d="M1826 964.7L1855.8 964.7 M1855.8 983.2L1826 983.2 M1781.5 956.2L1811.2 956.2 M1811.2 973.7L1781.5 973.7 M1811.2 993.1L1781.5 993.1 M1692.4 956.2L1722.1 956.2 M1722.1 973.7L1692.4 973.7 M1722.1 993.1L1692.4 993.1 M1737 964.7L1766.6 964.7 M1766.6 983.2L1737 983.2" stroke="#bc1414" stroke-width="6" fill="none" stroke-linecap="round"/><path d="M1826 964.7L1855.8 964.7 M1855.8 983.2L1826 983.2 M1781.5 956.2L1811.2 956.2 M1811.2 973.7L1781.5 973.7 M1811.2 993.1L1781.5 993.1 M1692.4 956.2L1722.1 956.2 M1722.1 973.7L1692.4 973.7 M1722.1 993.1L1692.4 993.1 M1737 964.7L1766.6 964.7 M1766.6 983.2L1737 983.2" stroke="#ee2828" stroke-width="3" fill="none" stroke-linecap="butt" transform="translate(0,1.4)"/><path d="M1812.1 973.2L1825.2 965.3 M1869.7 974.3L1856.6 982.6 M1767.5 964.2L1780.6 956.7 M1767.5 982.6L1780.6 974.3 M1825.2 983.8L1812.1 992.5 M1678.4 964.2L1691.5 956.7 M1736.1 965.3L1723 973.2 M1678.4 982.6L1691.5 974.3 M1736.1 983.8L1723 992.5" stroke="#7a0a0a" stroke-width="6.4" fill="none" stroke-linecap="butt"/><path d="M1812.1 973.2L1825.2 965.3 M1869.7 974.3L1856.6 982.6 M1767.5 964.2L1780.6 956.7 M1767.5 982.6L1780.6 974.3 M1825.2 983.8L1812.1 992.5 M1678.4 964.2L1691.5 956.7 M1736.1 965.3L1723 973.2 M1678.4 982.6L1691.5 974.3 M1736.1 983.8L1723 992.5" stroke="#bc1414" stroke-width="1.8" fill="none" stroke-linecap="butt" transform="translate(-1.1,-1.1)"/><ellipse cx="1866.9" cy="969.1" rx="7" ry="7.6" fill="url(#gN)" transform="rotate(0 1866.9 969.1)"/><ellipse cx="1869.4" cy="994" rx="11" ry="8.6" fill="url(#gO)" transform="rotate(-10 1869.4 994)"/></g>
<g transform="translate(0,-862)"><path d="M1041.1 1131.9L1013.3 1135.8 M983.7 1132.4L981.9 1128.1 M981.9 1128.1L956.4 1126.6 M981.9 1128.1L993.9 1124.5 M1023.4 1146.5L1047.7 1150.7 M1047.7 1150.7L1061.2 1146.5 M1047.7 1150.7L1050.5 1156.4" stroke="#6e6e6e" stroke-width="2.7" fill="none" stroke-linecap="round" stroke-linejoin="round" transform="translate(0,0.8)"/><path d="M1041.1 1131.9L1013.3 1135.8 M983.7 1132.4L981.9 1128.1 M981.9 1128.1L956.4 1126.6 M981.9 1128.1L993.9 1124.5 M1023.4 1146.5L1047.7 1150.7 M1047.7 1150.7L1061.2 1146.5 M1047.7 1150.7L1050.5 1156.4" stroke="#a8a8a8" stroke-width="1.3" fill="none" stroke-linecap="round" stroke-linejoin="round" transform="translate(0,-0.6)"/><path d="M1033.2 1122.8L1012.3 1119.6 M1071.8 1135.6L1074.6 1142.2" stroke="#555" stroke-width="3.6" fill="none" stroke-linecap="round" stroke-linejoin="round" transform="translate(0,0.8)"/><path d="M1033.2 1122.8L1012.3 1119.6 M1071.8 1135.6L1074.6 1142.2" stroke="#8c8c8c" stroke-width="2.2" fill="none" stroke-linecap="round" stroke-linejoin="round" transform="translate(0,-0.6)"/><ellipse cx="1001.7" cy="1117.9" rx="12" ry="8.5" fill="url(#gO)" transform="rotate(15 1001.7 1117.9)"/><path d="M960.9 1139.5L983.7 1132.4 M999.9 1152.7L1023.4 1146.5" stroke="#9166c2" stroke-width="6.2" fill="none" stroke-linecap="round"/><path d="M960.9 1139.5L983.7 1132.4 M999.9 1152.7L1023.4 1146.5" stroke="#b98ce6" stroke-width="2.1" fill="none" stroke-linecap="butt" transform="translate(0.3,1.9)"/><path d="M983.7 1132.4L1013.3 1135.8 M972.3 1149L999.9 1152.7" stroke="#b98ce6" stroke-width="6.2" fill="none" stroke-linecap="round"/><path d="M983.7 1132.4L1013.3 1135.8 M972.3 1149L999.9 1152.7" stroke="#9166c2" stroke-width="2.1" fill="none" stroke-linecap="butt" transform="translate(-0.2,2)"/><path d="M960.9 1139.5L972.3 1149 M1013.3 1135.8L1023.4 1146.5" stroke="#b98ce6" stroke-width="6.2" fill="none" stroke-linecap="round"/><path d="M1033.2 1122.8L1056 1117.4 M1071.8 1135.6L1094.6 1130.2 M1048.1 1108.3L1070.9 1102.9 M1086.7 1121.1L1109.5 1115.7 M1125.3 1133.9L1148.1 1128.5 M1116.5 1092.1L1139.3 1086.7 M1155.1 1104.9L1177.9 1099.5 M1193.7 1117.7L1216.5 1112.3 M1101.6 1106.6L1124.4 1101.2 M1140.2 1119.4L1163 1114" stroke="#9166c2" stroke-width="6.2" fill="none" stroke-linecap="round"/><path d="M1033.2 1122.8L1056 1117.4 M1071.8 1135.6L1094.6 1130.2 M1048.1 1108.3L1070.9 1102.9 M1086.7 1121.1L1109.5 1115.7 M1125.3 1133.9L1148.1 1128.5 M1116.5 1092.1L1139.3 1086.7 M1155.1 1104.9L1177.9 1099.5 M1193.7 1117.7L1216.5 1112.3 M1101.6 1106.6L1124.4 1101.2 M1140.2 1119.4L1163 1114" stroke="#b98ce6" stroke-width="2.1" fill="none" stroke-linecap="butt" transform="translate(0.3,1.9)"/><path d="M1056 1117.4L1086.7 1121.1 M1041.1 1131.9L1071.8 1135.6 M1070.9 1102.9L1101.6 1106.6 M1109.5 1115.7L1140.2 1119.4 M1094.6 1130.2L1125.3 1133.9 M1139.3 1086.7L1170 1090.4 M1124.4 1101.2L1155.1 1104.9 M1177.9 1099.5L1208.6 1103.2 M1163 1114L1193.7 1117.7" stroke="#b98ce6" stroke-width="6.2" fill="none" stroke-linecap="round"/><path d="M1056 1117.4L1086.7 1121.1 M1041.1 1131.9L1071.8 1135.6 M1070.9 1102.9L1101.6 1106.6 M1109.5 1115.7L1140.2 1119.4 M1094.6 1130.2L1125.3 1133.9 M1139.3 1086.7L1170 1090.4 M1124.4 1101.2L1155.1 1104.9 M1177.9 1099.5L1208.6 1103.2 M1163 1114L1193.7 1117.7" stroke="#9166c2" stroke-width="2.1" fill="none" stroke-linecap="butt" transform="translate(-0.2,2)"/><path d="M1033.2 1122.8L1041.1 1131.9 M1086.7 1121.1L1094.6 1130.2 M1048.1 1108.3L1056 1117.4 M1101.6 1106.6L1109.5 1115.7 M1140.2 1119.4L1148.1 1128.5 M1116.5 1092.1L1124.4 1101.2 M1170 1090.4L1177.9 1099.5 M1155.1 1104.9L1163 1114 M1208.6 1103.2L1216.5 1112.3" stroke="#b98ce6" stroke-width="6.2" fill="none" stroke-linecap="round"/><ellipse cx="1041.1" cy="1131.9" rx="7.4" ry="7.4" fill="url(#gN)" transform="rotate(0 1041.1 1131.9)"/><ellipse cx="1079.1" cy="1150" rx="12.5" ry="9.8" fill="url(#gO)" transform="rotate(30 1079.1 1150)"/></g>
<g transform="translate(0,-862)"><path d="M1503.7 1024.6L1530.9 1021.2 M1522.6 1011.4L1499 1009.8 M1499 1009.8L1485.8 1013.4 M1499 1009.8L1496.8 1003.9 M1561.6 1025.4L1564.2 1030.3 M1564.2 1030.3L1589.8 1033.2 M1564.2 1030.3L1550.2 1033.9" stroke="#6e6e6e" stroke-width="2.7" fill="none" stroke-linecap="round" stroke-linejoin="round" transform="translate(0,0.8)"/><path d="M1503.7 1024.6L1530.9 1021.2 M1522.6 1011.4L1499 1009.8 M1499 1009.8L1485.8 1013.4 M1499 1009.8L1496.8 1003.9 M1561.6 1025.4L1564.2 1030.3 M1564.2 1030.3L1589.8 1033.2 M1564.2 1030.3L1550.2 1033.9" stroke="#a8a8a8" stroke-width="1.3" fill="none" stroke-linecap="round" stroke-linejoin="round" transform="translate(0,-0.6)"/><path d="M1472.7 1020.7L1470.4 1014.9 M1511.9 1033.9L1535.6 1039.1" stroke="#555" stroke-width="3.6" fill="none" stroke-linecap="round" stroke-linejoin="round" transform="translate(0,0.8)"/><path d="M1472.7 1020.7L1470.4 1014.9 M1511.9 1033.9L1535.6 1039.1" stroke="#8c8c8c" stroke-width="2.2" fill="none" stroke-linecap="round" stroke-linejoin="round" transform="translate(0,-0.6)"/><ellipse cx="1467.5" cy="1009.8" rx="12" ry="8" fill="url(#gO)" transform="rotate(20 1467.5 1009.8)"/><path d="M1522.6 1011.4L1546.2 1004.5 M1561.6 1025.4L1585.9 1019.8" stroke="#9166c2" stroke-width="6.2" fill="none" stroke-linecap="round"/><path d="M1522.6 1011.4L1546.2 1004.5 M1561.6 1025.4L1585.9 1019.8" stroke="#b98ce6" stroke-width="2.1" fill="none" stroke-linecap="butt" transform="translate(0.3,1.9)"/><path d="M1546.2 1004.5L1576.9 1008.7 M1530.9 1021.2L1561.6 1025.4" stroke="#b98ce6" stroke-width="6.2" fill="none" stroke-linecap="round"/><path d="M1546.2 1004.5L1576.9 1008.7 M1530.9 1021.2L1561.6 1025.4" stroke="#9166c2" stroke-width="2.1" fill="none" stroke-linecap="butt" transform="translate(-0.2,2)"/><path d="M1522.6 1011.4L1530.9 1021.2 M1576.9 1008.7L1585.9 1019.8" stroke="#b98ce6" stroke-width="6.2" fill="none" stroke-linecap="round"/><path d="M1449.9 1026.1L1472.7 1020.7 M1489.1 1039.3L1511.9 1033.9 M1396.2 1027.6L1419 1022.2 M1435.3 1040.8L1458.1 1035.4 M1474.4 1054L1497.2 1048.6 M1327.8 1043.8L1350.6 1038.4 M1366.9 1057L1389.7 1051.6 M1406 1070.2L1428.8 1064.8 M1381.5 1042.3L1404.3 1036.9 M1420.7 1055.5L1443.5 1050.1" stroke="#9166c2" stroke-width="6.2" fill="none" stroke-linecap="round"/><path d="M1449.9 1026.1L1472.7 1020.7 M1489.1 1039.3L1511.9 1033.9 M1396.2 1027.6L1419 1022.2 M1435.3 1040.8L1458.1 1035.4 M1474.4 1054L1497.2 1048.6 M1327.8 1043.8L1350.6 1038.4 M1366.9 1057L1389.7 1051.6 M1406 1070.2L1428.8 1064.8 M1381.5 1042.3L1404.3 1036.9 M1420.7 1055.5L1443.5 1050.1" stroke="#b98ce6" stroke-width="2.1" fill="none" stroke-linecap="butt" transform="translate(0.3,1.9)"/><path d="M1472.7 1020.7L1503.7 1024.6 M1458.1 1035.4L1489.1 1039.3 M1419 1022.2L1449.9 1026.1 M1404.3 1036.9L1435.3 1040.8 M1443.5 1050.1L1474.4 1054 M1350.6 1038.4L1381.5 1042.3 M1335.9 1053.1L1366.9 1057 M1389.7 1051.6L1420.7 1055.5 M1375.1 1066.3L1406 1070.2" stroke="#b98ce6" stroke-width="6.2" fill="none" stroke-linecap="round"/><path d="M1472.7 1020.7L1503.7 1024.6 M1458.1 1035.4L1489.1 1039.3 M1419 1022.2L1449.9 1026.1 M1404.3 1036.9L1435.3 1040.8 M1443.5 1050.1L1474.4 1054 M1350.6 1038.4L1381.5 1042.3 M1335.9 1053.1L1366.9 1057 M1389.7 1051.6L1420.7 1055.5 M1375.1 1066.3L1406 1070.2" stroke="#9166c2" stroke-width="2.1" fill="none" stroke-linecap="butt" transform="translate(-0.2,2)"/><path d="M1449.9 1026.1L1458.1 1035.4 M1503.7 1024.6L1511.9 1033.9 M1396.2 1027.6L1404.3 1036.9 M1435.3 1040.8L1443.5 1050.1 M1489.1 1039.3L1497.2 1048.6 M1327.8 1043.8L1335.9 1053.1 M1381.5 1042.3L1389.7 1051.6 M1366.9 1057L1375.1 1066.3 M1420.7 1055.5L1428.8 1064.8" stroke="#b98ce6" stroke-width="6.2" fill="none" stroke-linecap="round"/><ellipse cx="1503.7" cy="1024.6" rx="7.4" ry="7.4" fill="url(#gN)" transform="rotate(0 1503.7 1024.6)"/><ellipse cx="1544.4" cy="1042.7" rx="12.3" ry="9.6" fill="url(#gO)" transform="rotate(25 1544.4 1042.7)"/></g>
<g transform="translate(0.5,-863.2) translate(1252,1066) scale(1.035) translate(-1252,-1066)"><line x1="1174" y1="1093" x2="1200" y2="1086.500" stroke="#8c8c8c" stroke-width="2.4"/><line x1="1321" y1="1059.500" x2="1334" y2="1055.600" stroke="#8c8c8c" stroke-width="2.4"/><path d="M1179 1066 L1179 1076 Q1179 1080 1184 1082 L1212 1092 Q1220 1094 1226 1092 L1319 1062 Q1324.500 1060 1324.500 1056 L1324.500 1050 L1220 1079 Z" fill="url(#gt_purple)"/><path d="M1179 1068 L1179 1076 Q1179 1080 1184 1082 L1212 1092 Q1214 1092.700 1215.500 1092.900 L1215.500 1079 Z" fill="#7b4ea8"/><path d="M1183 1063.500 Q1177 1066 1184 1068.500 L1211 1078 Q1220 1080.500 1229 1078 L1319 1053 Q1327 1050 1320 1048 L1290 1040.500 Q1283 1039 1275 1041 Z" fill="#b07cda"/></g>
<g transform="translate(0,-587.3)"><line x1="1466" y1="965.8" x2="1500" y2="965.8" stroke="#a4a4a4" stroke-width="2.4"/><line x1="1639" y1="966" x2="1677" y2="966" stroke="#a4a4a4" stroke-width="2.4"/><rect x="1498.5" y="951" width="141.5" height="26.4" rx="6.500" fill="url(#gb_orange)"/><rect x="1505.2" y="971.8" width="128.1" height="5" fill="url(#gh_orange)"/><rect x="1498.2" y="943" width="142.1" height="23.7" rx="6.500" fill="#ffa777"/></g>
<g transform="translate(-2.5,-587.3)"><path d="M1271.7 973.7L1242 973.7 M1227.2 964.7L1239.9 959.8 M1239.9 959.8L1258 959.8 M1239.9 959.8L1225.1 953.9 M1227.2 983.2L1239.9 988.7 M1239.9 988.7L1258 988.7 M1239.9 988.7L1225.1 996" stroke="#6e6e6e" stroke-width="2.7" fill="none" stroke-linecap="round" stroke-linejoin="round" transform="translate(0,0.8)"/><path d="M1271.7 973.7L1242 973.7 M1227.2 964.7L1239.9 959.8 M1239.9 959.8L1258 959.8 M1239.9 959.8L1225.1 953.9 M1227.2 983.2L1239.9 988.7 M1239.9 988.7L1258 988.7 M1239.9 988.7L1225.1 996" stroke="#a8a8a8" stroke-width="1.3" fill="none" stroke-linecap="round" stroke-linejoin="round" transform="translate(0,-0.6)"/><path d="M1286.5 963.9L1274.7 958 M1286.5 982.3L1274.7 989.1" stroke="#555" stroke-width="3.6" fill="none" stroke-linecap="round" stroke-linejoin="round" transform="translate(0,0.8)"/><path d="M1286.5 963.9L1274.7 958 M1286.5 982.3L1274.7 989.1" stroke="#8c8c8c" stroke-width="2.2" fill="none" stroke-linecap="round" stroke-linejoin="round" transform="translate(0,-0.6)"/><ellipse cx="1273.8" cy="956.6" rx="11" ry="8.6" fill="url(#gO)" transform="rotate(-10 1273.8 956.6)"/><path d="M1242 973.7L1227.2 964.7 M1182.6 973.7L1197.5 983.2" stroke="#8286e6" stroke-width="6" fill="none" stroke-linecap="round"/><path d="M1242 973.7L1227.2 964.7 M1182.6 973.7L1197.5 983.2" stroke="#5254b6" stroke-width="1.5" fill="none" stroke-linecap="butt" transform="translate(0.9,-0.9)"/><path d="M1227.2 964.7L1197.5 964.7 M1197.5 983.2L1227.2 983.2" stroke="#5254b6" stroke-width="6" fill="none" stroke-linecap="round"/><path d="M1227.2 964.7L1197.5 964.7 M1197.5 983.2L1227.2 983.2" stroke="#8286e6" stroke-width="3" fill="none" stroke-linecap="butt" transform="translate(0,1.4)"/><path d="M1196.6 965.3L1183.5 973.2 M1228 982.6L1241.1 974.3" stroke="#32348a" stroke-width="6.4" fill="none" stroke-linecap="butt"/><path d="M1196.6 965.3L1183.5 973.2 M1228 982.6L1241.1 974.3" stroke="#5254b6" stroke-width="1.8" fill="none" stroke-linecap="butt" transform="translate(-1.1,-1.1)"/><path d="M1331.1 973.7L1316.2 964.7 M1271.7 973.7L1286.5 983.2 M1375.7 964.7L1360.8 956.2 M1375.7 983.2L1360.8 973.7 M1316.2 983.2L1331.1 993.1 M1464.8 964.7L1449.9 956.2 M1405.3 964.7L1420.2 973.7 M1464.8 983.2L1449.9 973.7 M1405.3 983.2L1420.2 993.1" stroke="#8286e6" stroke-width="6" fill="none" stroke-linecap="round"/><path d="M1331.1 973.7L1316.2 964.7 M1271.7 973.7L1286.5 983.2 M1375.7 964.7L1360.8 956.2 M1375.7 983.2L1360.8 973.7 M1316.2 983.2L1331.1 993.1 M1464.8 964.7L1449.9 956.2 M1405.3 964.7L1420.2 973.7 M1464.8 983.2L1449.9 973.7 M1405.3 983.2L1420.2 993.1" stroke="#5254b6" stroke-width="1.5" fill="none" stroke-linecap="butt" transform="translate(0.9,-0.9)"/><path d="M1316.2 964.7L1286.5 964.7 M1286.5 983.2L1316.2 983.2 M1360.8 956.2L1331.1 956.2 M1331.1 973.7L1360.8 973.7 M1331.1 993.1L1360.8 993.1 M1449.9 956.2L1420.2 956.2 M1420.2 973.7L1449.9 973.7 M1420.2 993.1L1449.9 993.1 M1405.3 964.7L1375.7 964.7 M1375.7 983.2L1405.3 983.2" stroke="#5254b6" stroke-width="6" fill="none" stroke-linecap="round"/><path d="M1316.2 964.7L1286.5 964.7 M1286.5 983.2L1316.2 983.2 M1360.8 956.2L1331.1 956.2 M1331.1 973.7L1360.8 973.7 M1331.1 993.1L1360.8 993.1 M1449.9 956.2L1420.2 956.2 M1420.2 973.7L1449.9 973.7 M1420.2 993.1L1449.9 993.1 M1405.3 964.7L1375.7 964.7 M1375.7 983.2L1405.3 983.2" stroke="#8286e6" stroke-width="3" fill="none" stroke-linecap="butt" transform="translate(0,1.4)"/><path d="M1285.7 965.3L1272.6 973.2 M1317.1 982.6L1330.2 974.3 M1330.2 956.7L1317.1 964.2 M1361.7 973.2L1374.8 965.3 M1361.7 992.5L1374.8 983.8 M1419.3 956.7L1406.2 964.2 M1450.8 973.2L1463.9 965.3 M1419.3 974.3L1406.2 982.6 M1450.8 992.5L1463.9 983.8" stroke="#32348a" stroke-width="6.4" fill="none" stroke-linecap="butt"/><path d="M1285.7 965.3L1272.6 973.2 M1317.1 982.6L1330.2 974.3 M1330.2 956.7L1317.1 964.2 M1361.7 973.2L1374.8 965.3 M1361.7 992.5L1374.8 983.8 M1419.3 956.7L1406.2 964.2 M1450.8 973.2L1463.9 965.3 M1419.3 974.3L1406.2 982.6 M1450.8 992.5L1463.9 983.8" stroke="#5254b6" stroke-width="1.8" fill="none" stroke-linecap="butt" transform="translate(-1.1,-1.1)"/><ellipse cx="1275.4" cy="969.1" rx="7" ry="7.6" fill="url(#gN)" transform="rotate(0 1275.4 969.1)"/><ellipse cx="1272.9" cy="994" rx="11" ry="8.6" fill="url(#gO)" transform="rotate(-10 1272.9 994)"/></g>
<g transform="translate(0,-587.3)"><path d="M1870.6 973.7L1900.3 973.7 M1915.1 964.7L1902.4 959.8 M1902.4 959.8L1884.3 959.8 M1902.4 959.8L1917.2 953.9 M1915.1 983.2L1902.4 988.7 M1902.4 988.7L1884.3 988.7 M1902.4 988.7L1917.2 996" stroke="#6e6e6e" stroke-width="2.7" fill="none" stroke-linecap="round" stroke-linejoin="round" transform="translate(0,0.8)"/><path d="M1870.6 973.7L1900.3 973.7 M1915.1 964.7L1902.4 959.8 M1902.4 959.8L1884.3 959.8 M1902.4 959.8L1917.2 953.9 M1915.1 983.2L1902.4 988.7 M1902.4 988.7L1884.3 988.7 M1902.4 988.7L1917.2 996" stroke="#a8a8a8" stroke-width="1.3" fill="none" stroke-linecap="round" stroke-linejoin="round" transform="translate(0,-0.6)"/><path d="M1855.8 963.9L1867.6 958 M1855.8 982.3L1867.6 989.1" stroke="#555" stroke-width="3.6" fill="none" stroke-linecap="round" stroke-linejoin="round" transform="translate(0,0.8)"/><path d="M1855.8 963.9L1867.6 958 M1855.8 982.3L1867.6 989.1" stroke="#8c8c8c" stroke-width="2.2" fill="none" stroke-linecap="round" stroke-linejoin="round" transform="translate(0,-0.6)"/><ellipse cx="1868.5" cy="956.6" rx="11" ry="8.6" fill="url(#gO)" transform="rotate(-10 1868.5 956.6)"/><path d="M1944.8 964.7L1959.7 973.7 M1915.1 983.2L1900.3 973.7" stroke="#8286e6" stroke-width="6" fill="none" stroke-linecap="round"/><path d="M1944.8 964.7L1959.7 973.7 M1915.1 983.2L1900.3 973.7" stroke="#5254b6" stroke-width="1.5" fill="none" stroke-linecap="butt" transform="translate(0.9,-0.9)"/><path d="M1915.1 964.7L1944.8 964.7 M1944.8 983.2L1915.1 983.2" stroke="#5254b6" stroke-width="6" fill="none" stroke-linecap="round"/><path d="M1915.1 964.7L1944.8 964.7 M1944.8 983.2L1915.1 983.2" stroke="#8286e6" stroke-width="3" fill="none" stroke-linecap="butt" transform="translate(0,1.4)"/><path d="M1901.2 973.2L1914.3 965.3 M1958.8 974.3L1945.7 982.6" stroke="#32348a" stroke-width="6.4" fill="none" stroke-linecap="butt"/><path d="M1901.2 973.2L1914.3 965.3 M1958.8 974.3L1945.7 982.6" stroke="#5254b6" stroke-width="1.8" fill="none" stroke-linecap="butt" transform="translate(-1.1,-1.1)"/><path d="M1855.8 964.7L1870.6 973.7 M1826 983.2L1811.2 973.7 M1811.2 956.2L1826 964.7 M1781.5 973.7L1766.6 964.7 M1781.5 993.1L1766.6 983.2 M1722.1 956.2L1737 964.7 M1692.4 973.7L1677.5 964.7 M1722.1 973.7L1737 983.2 M1692.4 993.1L1677.5 983.2" stroke="#8286e6" stroke-width="6" fill="none" stroke-linecap="round"/><path d="M1855.8 964.7L1870.6 973.7 M1826 983.2L1811.2 973.7 M1811.2 956.2L1826 964.7 M1781.5 973.7L1766.6 964.7 M1781.5 993.1L1766.6 983.2 M1722.1 956.2L1737 964.7 M1692.4 973.7L1677.5 964.7 M1722.1 973.7L1737 983.2 M1692.4 993.1L1677.5 983.2" stroke="#5254b6" stroke-width="1.5" fill="none" stroke-linecap="butt" transform="translate(0.9,-0.9)"/><path d="M1826 964.7L1855.8 964.7 M1855.8 983.2L1826 983.2 M1781.5 956.2L1811.2 956.2 M1811.2 973.7L1781.5 973.7 M1811.2 993.1L1781.5 993.1 M1692.4 956.2L1722.1 956.2 M1722.1 973.7L1692.4 973.7 M1722.1 993.1L1692.4 993.1 M1737 964.7L1766.6 964.7 M1766.6 983.2L1737 983.2" stroke="#5254b6" stroke-width="6" fill="none" stroke-linecap="round"/><path d="M1826 964.7L1855.8 964.7 M1855.8 983.2L1826 983.2 M1781.5 956.2L1811.2 956.2 M1811.2 973.7L1781.5 973.7 M1811.2 993.1L1781.5 993.1 M1692.4 956.2L1722.1 956.2 M1722.1 973.7L1692.4 973.7 M1722.1 993.1L1692.4 993.1 M1737 964.7L1766.6 964.7 M1766.6 983.2L1737 983.2" stroke="#8286e6" stroke-width="3" fill="none" stroke-linecap="butt" transform="translate(0,1.4)"/><path d="M1812.1 973.2L1825.2 965.3 M1869.7 974.3L1856.6 982.6 M1767.5 964.2L1780.6 956.7 M1767.5 982.6L1780.6 974.3 M1825.2 983.8L1812.1 992.5 M1678.4 964.2L1691.5 956.7 M1736.1 965.3L1723 973.2 M1678.4 982.6L1691.5 974.3 M1736.1 983.8L1723 992.5" stroke="#32348a" stroke-width="6.4" fill="none" stroke-linecap="butt"/><path d="M1812.1 973.2L1825.2 965.3 M1869.7 974.3L1856.6 982.6 M1767.5 964.2L1780.6 956.7 M1767.5 982.6L1780.6 974.3 M1825.2 983.8L1812.1 992.5 M1678.4 964.2L1691.5 956.7 M1736.1 965.3L1723 973.2 M1678.4 982.6L1691.5 974.3 M1736.1 983.8L1723 992.5" stroke="#5254b6" stroke-width="1.8" fill="none" stroke-linecap="butt" transform="translate(-1.1,-1.1)"/><ellipse cx="1866.9" cy="969.1" rx="7" ry="7.6" fill="url(#gN)" transform="rotate(0 1866.9 969.1)"/><ellipse cx="1869.4" cy="994" rx="11" ry="8.6" fill="url(#gO)" transform="rotate(-10 1869.4 994)"/></g>
<g transform="translate(0,-570.5)"><path d="M1041.1 1131.9L1013.3 1135.8 M983.7 1132.4L981.9 1128.1 M981.9 1128.1L956.4 1126.6 M981.9 1128.1L993.9 1124.5 M1023.4 1146.5L1047.7 1150.7 M1047.7 1150.7L1061.2 1146.5 M1047.7 1150.7L1050.5 1156.4" stroke="#6e6e6e" stroke-width="2.7" fill="none" stroke-linecap="round" stroke-linejoin="round" transform="translate(0,0.8)"/><path d="M1041.1 1131.9L1013.3 1135.8 M983.7 1132.4L981.9 1128.1 M981.9 1128.1L956.4 1126.6 M981.9 1128.1L993.9 1124.5 M1023.4 1146.5L1047.7 1150.7 M1047.7 1150.7L1061.2 1146.5 M1047.7 1150.7L1050.5 1156.4" stroke="#a8a8a8" stroke-width="1.3" fill="none" stroke-linecap="round" stroke-linejoin="round" transform="translate(0,-0.6)"/><path d="M1033.2 1122.8L1012.3 1119.6 M1071.8 1135.6L1074.6 1142.2" stroke="#555" stroke-width="3.6" fill="none" stroke-linecap="round" stroke-linejoin="round" transform="translate(0,0.8)"/><path d="M1033.2 1122.8L1012.3 1119.6 M1071.8 1135.6L1074.6 1142.2" stroke="#8c8c8c" stroke-width="2.2" fill="none" stroke-linecap="round" stroke-linejoin="round" transform="translate(0,-0.6)"/><ellipse cx="1001.7" cy="1117.9" rx="12" ry="8.5" fill="url(#gO)" transform="rotate(15 1001.7 1117.9)"/><path d="M960.9 1139.5L983.7 1132.4 M999.9 1152.7L1023.4 1146.5" stroke="#bc6c6c" stroke-width="6.2" fill="none" stroke-linecap="round"/><path d="M960.9 1139.5L983.7 1132.4 M999.9 1152.7L1023.4 1146.5" stroke="#e48c8c" stroke-width="2.1" fill="none" stroke-linecap="butt" transform="translate(0.3,1.9)"/><path d="M983.7 1132.4L1013.3 1135.8 M972.3 1149L999.9 1152.7" stroke="#e48c8c" stroke-width="6.2" fill="none" stroke-linecap="round"/><path d="M983.7 1132.4L1013.3 1135.8 M972.3 1149L999.9 1152.7" stroke="#bc6c6c" stroke-width="2.1" fill="none" stroke-linecap="butt" transform="translate(-0.2,2)"/><path d="M960.9 1139.5L972.3 1149 M1013.3 1135.8L1023.4 1146.5" stroke="#e48c8c" stroke-width="6.2" fill="none" stroke-linecap="round"/><path d="M1033.2 1122.8L1056 1117.4 M1071.8 1135.6L1094.6 1130.2 M1048.1 1108.3L1070.9 1102.9 M1086.7 1121.1L1109.5 1115.7 M1125.3 1133.9L1148.1 1128.5 M1116.5 1092.1L1139.3 1086.7 M1155.1 1104.9L1177.9 1099.5 M1193.7 1117.7L1216.5 1112.3 M1101.6 1106.6L1124.4 1101.2 M1140.2 1119.4L1163 1114" stroke="#bc6c6c" stroke-width="6.2" fill="none" stroke-linecap="round"/><path d="M1033.2 1122.8L1056 1117.4 M1071.8 1135.6L1094.6 1130.2 M1048.1 1108.3L1070.9 1102.9 M1086.7 1121.1L1109.5 1115.7 M1125.3 1133.9L1148.1 1128.5 M1116.5 1092.1L1139.3 1086.7 M1155.1 1104.9L1177.9 1099.5 M1193.7 1117.7L1216.5 1112.3 M1101.6 1106.6L1124.4 1101.2 M1140.2 1119.4L1163 1114" stroke="#e48c8c" stroke-width="2.1" fill="none" stroke-linecap="butt" transform="translate(0.3,1.9)"/><path d="M1056 1117.4L1086.7 1121.1 M1041.1 1131.9L1071.8 1135.6 M1070.9 1102.9L1101.6 1106.6 M1109.5 1115.7L1140.2 1119.4 M1094.6 1130.2L1125.3 1133.9 M1139.3 1086.7L1170 1090.4 M1124.4 1101.2L1155.1 1104.9 M1177.9 1099.5L1208.6 1103.2 M1163 1114L1193.7 1117.7" stroke="#e48c8c" stroke-width="6.2" fill="none" stroke-linecap="round"/><path d="M1056 1117.4L1086.7 1121.1 M1041.1 1131.9L1071.8 1135.6 M1070.9 1102.9L1101.6 1106.6 M1109.5 1115.7L1140.2 1119.4 M1094.6 1130.2L1125.3 1133.9 M1139.3 1086.7L1170 1090.4 M1124.4 1101.2L1155.1 1104.9 M1177.9 1099.5L1208.6 1103.2 M1163 1114L1193.7 1117.7" stroke="#bc6c6c" stroke-width="2.1" fill="none" stroke-linecap="butt" transform="translate(-0.2,2)"/><path d="M1033.2 1122.8L1041.1 1131.9 M1086.7 1121.1L1094.6 1130.2 M1048.1 1108.3L1056 1117.4 M1101.6 1106.6L1109.5 1115.7 M1140.2 1119.4L1148.1 1128.5 M1116.5 1092.1L1124.4 1101.2 M1170 1090.4L1177.9 1099.5 M1155.1 1104.9L1163 1114 M1208.6 1103.2L1216.5 1112.3" stroke="#e48c8c" stroke-width="6.2" fill="none" stroke-linecap="round"/><ellipse cx="1041.1" cy="1131.9" rx="7.4" ry="7.4" fill="url(#gN)" transform="rotate(0 1041.1 1131.9)"/><ellipse cx="1079.1" cy="1150" rx="12.5" ry="9.8" fill="url(#gO)" transform="rotate(30 1079.1 1150)"/></g>
<g transform="translate(0,-570.5)"><path d="M1503.7 1024.6L1530.9 1021.2 M1522.6 1011.4L1499 1009.8 M1499 1009.8L1485.8 1013.4 M1499 1009.8L1496.8 1003.9 M1561.6 1025.4L1564.2 1030.3 M1564.2 1030.3L1589.8 1033.2 M1564.2 1030.3L1550.2 1033.9" stroke="#6e6e6e" stroke-width="2.7" fill="none" stroke-linecap="round" stroke-linejoin="round" transform="translate(0,0.8)"/><path d="M1503.7 1024.6L1530.9 1021.2 M1522.6 1011.4L1499 1009.8 M1499 1009.8L1485.8 1013.4 M1499 1009.8L1496.8 1003.9 M1561.6 1025.4L1564.2 1030.3 M1564.2 1030.3L1589.8 1033.2 M1564.2 1030.3L1550.2 1033.9" stroke="#a8a8a8" stroke-width="1.3" fill="none" stroke-linecap="round" stroke-linejoin="round" transform="translate(0,-0.6)"/><path d="M1472.7 1020.7L1470.4 1014.9 M1511.9 1033.9L1535.6 1039.1" stroke="#555" stroke-width="3.6" fill="none" stroke-linecap="round" stroke-linejoin="round" transform="translate(0,0.8)"/><path d="M1472.7 1020.7L1470.4 1014.9 M1511.9 1033.9L1535.6 1039.1" stroke="#8c8c8c" stroke-width="2.2" fill="none" stroke-linecap="round" stroke-linejoin="round" transform="translate(0,-0.6)"/><ellipse cx="1467.5" cy="1009.8" rx="12" ry="8" fill="url(#gO)" transform="rotate(20 1467.5 1009.8)"/><path d="M1522.6 1011.4L1546.2 1004.5 M1561.6 1025.4L1585.9 1019.8" stroke="#bc6c6c" stroke-width="6.2" fill="none" stroke-linecap="round"/><path d="M1522.6 1011.4L1546.2 1004.5 M1561.6 1025.4L1585.9 1019.8" stroke="#e48c8c" stroke-width="2.1" fill="none" stroke-linecap="butt" transform="translate(0.3,1.9)"/><path d="M1546.2 1004.5L1576.9 1008.7 M1530.9 1021.2L1561.6 1025.4" stroke="#e48c8c" stroke-width="6.2" fill="none" stroke-linecap="round"/><path d="M1546.2 1004.5L1576.9 1008.7 M1530.9 1021.2L1561.6 1025.4" stroke="#bc6c6c" stroke-width="2.1" fill="none" stroke-linecap="butt" transform="translate(-0.2,2)"/><path d="M1522.6 1011.4L1530.9 1021.2 M1576.9 1008.7L1585.9 1019.8" stroke="#e48c8c" stroke-width="6.2" fill="none" stroke-linecap="round"/><path d="M1449.9 1026.1L1472.7 1020.7 M1489.1 1039.3L1511.9 1033.9 M1396.2 1027.6L1419 1022.2 M1435.3 1040.8L1458.1 1035.4 M1474.4 1054L1497.2 1048.6 M1327.8 1043.8L1350.6 1038.4 M1366.9 1057L1389.7 1051.6 M1406 1070.2L1428.8 1064.8 M1381.5 1042.3L1404.3 1036.9 M1420.7 1055.5L1443.5 1050.1" stroke="#bc6c6c" stroke-width="6.2" fill="none" stroke-linecap="round"/><path d="M1449.9 1026.1L1472.7 1020.7 M1489.1 1039.3L1511.9 1033.9 M1396.2 1027.6L1419 1022.2 M1435.3 1040.8L1458.1 1035.4 M1474.4 1054L1497.2 1048.6 M1327.8 1043.8L1350.6 1038.4 M1366.9 1057L1389.7 1051.6 M1406 1070.2L1428.8 1064.8 M1381.5 1042.3L1404.3 1036.9 M1420.7 1055.5L1443.5 1050.1" stroke="#e48c8c" stroke-width="2.1" fill="none" stroke-linecap="butt" transform="translate(0.3,1.9)"/><path d="M1472.7 1020.7L1503.7 1024.6 M1458.1 1035.4L1489.1 1039.3 M1419 1022.2L1449.9 1026.1 M1404.3 1036.9L1435.3 1040.8 M1443.5 1050.1L1474.4 1054 M1350.6 1038.4L1381.5 1042.3 M1335.9 1053.1L1366.9 1057 M1389.7 1051.6L1420.7 1055.5 M1375.1 1066.3L1406 1070.2" stroke="#e48c8c" stroke-width="6.2" fill="none" stroke-linecap="round"/><path d="M1472.7 1020.7L1503.7 1024.6 M1458.1 1035.4L1489.1 1039.3 M1419 1022.2L1449.9 1026.1 M1404.3 1036.9L1435.3 1040.8 M1443.5 1050.1L1474.4 1054 M1350.6 1038.4L1381.5 1042.3 M1335.9 1053.1L1366.9 1057 M1389.7 1051.6L1420.7 1055.5 M1375.1 1066.3L1406 1070.2" stroke="#bc6c6c" stroke-width="2.1" fill="none" stroke-linecap="butt" transform="translate(-0.2,2)"/><path d="M1449.9 1026.1L1458.1 1035.4 M1503.7 1024.6L1511.9 1033.9 M1396.2 1027.6L1404.3 1036.9 M1435.3 1040.8L1443.5 1050.1 M1489.1 1039.3L1497.2 1048.6 M1327.8 1043.8L1335.9 1053.1 M1381.5 1042.3L1389.7 1051.6 M1366.9 1057L1375.1 1066.3 M1420.7 1055.5L1428.8 1064.8" stroke="#e48c8c" stroke-width="6.2" fill="none" stroke-linecap="round"/><ellipse cx="1503.7" cy="1024.6" rx="7.4" ry="7.4" fill="url(#gN)" transform="rotate(0 1503.7 1024.6)"/><ellipse cx="1544.4" cy="1042.7" rx="12.3" ry="9.6" fill="url(#gO)" transform="rotate(25 1544.4 1042.7)"/></g>
<g transform="translate(0,-570.5) translate(1252,1066) scale(1.0) translate(-1252,-1066)"><line x1="1174" y1="1093" x2="1200" y2="1086.500" stroke="#8c8c8c" stroke-width="2.4"/><line x1="1321" y1="1059.500" x2="1334" y2="1055.600" stroke="#8c8c8c" stroke-width="2.4"/><path d="M1179 1066 L1179 1076 Q1179 1080 1184 1082 L1212 1092 Q1220 1094 1226 1092 L1319 1062 Q1324.500 1060 1324.500 1056 L1324.500 1050 L1220 1079 Z" fill="url(#gt_lilac)"/><path d="M1179 1068 L1179 1076 Q1179 1080 1184 1082 L1212 1092 Q1214 1092.700 1215.500 1092.900 L1215.500 1079 Z" fill="#8c66b2"/><path d="M1183 1063.500 Q1177 1066 1184 1068.500 L1211 1078 Q1220 1080.500 1229 1078 L1319 1053 Q1327 1050 1320 1048 L1290 1040.500 Q1283 1039 1275 1041 Z" fill="#d0aaea"/></g>
<g transform="translate(0,-295.8)"><line x1="1466" y1="965.8" x2="1500" y2="965.8" stroke="#a4a4a4" stroke-width="2.4"/><line x1="1639" y1="966" x2="1677" y2="966" stroke="#a4a4a4" stroke-width="2.4"/><rect x="1498.5" y="951" width="141.5" height="26.4" rx="6.500" fill="url(#gb_orange)"/><rect x="1505.2" y="971.8" width="128.1" height="5" fill="url(#gh_orange)"/><rect x="1498.2" y="943" width="142.1" height="23.7" rx="6.500" fill="#ffa777"/></g>
<g transform="translate(0,-295.8)"><path d="M1271.7 973.7L1242 973.7 M1227.2 964.7L1239.9 959.8 M1239.9 959.8L1258 959.8 M1239.9 959.8L1225.1 953.9 M1227.2 983.2L1239.9 988.7 M1239.9 988.7L1258 988.7 M1239.9 988.7L1225.1 996" stroke="#6e6e6e" stroke-width="2.7" fill="none" stroke-linecap="round" stroke-linejoin="round" transform="translate(0,0.8)"/><path d="M1271.7 973.7L1242 973.7 M1227.2 964.7L1239.9 959.8 M1239.9 959.8L1258 959.8 M1239.9 959.8L1225.1 953.9 M1227.2 983.2L1239.9 988.7 M1239.9 988.7L1258 988.7 M1239.9 988.7L1225.1 996" stroke="#a8a8a8" stroke-width="1.3" fill="none" stroke-linecap="round" stroke-linejoin="round" transform="translate(0,-0.6)"/><path d="M1286.5 963.9L1274.7 958 M1286.5 982.3L1274.7 989.1" stroke="#555" stroke-width="3.6" fill="none" stroke-linecap="round" stroke-linejoin="round" transform="translate(0,0.8)"/><path d="M1286.5 963.9L1274.7 958 M1286.5 982.3L1274.7 989.1" stroke="#8c8c8c" stroke-width="2.2" fill="none" stroke-linecap="round" stroke-linejoin="round" transform="translate(0,-0.6)"/><ellipse cx="1273.8" cy="956.6" rx="11" ry="8.6" fill="url(#gO)" transform="rotate(-10 1273.8 956.6)"/><path d="M1242 973.7L1227.2 964.7 M1182.6 973.7L1197.5 983.2" stroke="#8286e6" stroke-width="6" fill="none" stroke-linecap="round"/><path d="M1242 973.7L1227.2 964.7 M1182.6 973.7L1197.5 983.2" stroke="#5254b6" stroke-width="1.5" fill="none" stroke-linecap="butt" transform="translate(0.9,-0.9)"/><path d="M1227.2 964.7L1197.5 964.7 M1197.5 983.2L1227.2 983.2" stroke="#5254b6" stroke-width="6" fill="none" stroke-linecap="round"/><path d="M1227.2 964.7L1197.5 964.7 M1197.5 983.2L1227.2 983.2" stroke="#8286e6" stroke-width="3" fill="none" stroke-linecap="butt" transform="translate(0,1.4)"/><path d="M1196.6 965.3L1183.5 973.2 M1228 982.6L1241.1 974.3" stroke="#32348a" stroke-width="6.4" fill="none" stroke-linecap="butt"/><path d="M1196.6 965.3L1183.5 973.2 M1228 982.6L1241.1 974.3" stroke="#5254b6" stroke-width="1.8" fill="none" stroke-linecap="butt" transform="translate(-1.1,-1.1)"/><path d="M1331.1 973.7L1316.2 964.7 M1271.7 973.7L1286.5 983.2 M1375.7 964.7L1360.8 956.2 M1375.7 983.2L1360.8 973.7 M1316.2 983.2L1331.1 993.1 M1464.8 964.7L1449.9 956.2 M1405.3 964.7L1420.2 973.7 M1464.8 983.2L1449.9 973.7 M1405.3 983.2L1420.2 993.1" stroke="#8286e6" stroke-width="6" fill="none" stroke-linecap="round"/><path d="M1331.1 973.7L1316.2 964.7 M1271.7 973.7L1286.5 983.2 M1375.7 964.7L1360.8 956.2 M1375.7 983.2L1360.8 973.7 M1316.2 983.2L1331.1 993.1 M1464.8 964.7L1449.9 956.2 M1405.3 964.7L1420.2 973.7 M1464.8 983.2L1449.9 973.7 M1405.3 983.2L1420.2 993.1" stroke="#5254b6" stroke-width="1.5" fill="none" stroke-linecap="butt" transform="translate(0.9,-0.9)"/><path d="M1316.2 964.7L1286.5 964.7 M1286.5 983.2L1316.2 983.2 M1360.8 956.2L1331.1 956.2 M1331.1 973.7L1360.8 973.7 M1331.1 993.1L1360.8 993.1 M1449.9 956.2L1420.2 956.2 M1420.2 973.7L1449.9 973.7 M1420.2 993.1L1449.9 993.1 M1405.3 964.7L1375.7 964.7 M1375.7 983.2L1405.3 983.2" stroke="#5254b6" stroke-width="6" fill="none" stroke-linecap="round"/><path d="M1316.2 964.7L1286.5 964.7 M1286.5 983.2L1316.2 983.2 M1360.8 956.2L1331.1 956.2 M1331.1 973.7L1360.8 973.7 M1331.1 993.1L1360.8 993.1 M1449.9 956.2L1420.2 956.2 M1420.2 973.7L1449.9 973.7 M1420.2 993.1L1449.9 993.1 M1405.3 964.7L1375.7 964.7 M1375.7 983.2L1405.3 983.2" stroke="#8286e6" stroke-width="3" fill="none" stroke-linecap="butt" transform="translate(0,1.4)"/><path d="M1285.7 965.3L1272.6 973.2 M1317.1 982.6L1330.2 974.3 M1330.2 956.7L1317.1 964.2 M1361.7 973.2L1374.8 965.3 M1361.7 992.5L1374.8 983.8 M1419.3 956.7L1406.2 964.2 M1450.8 973.2L1463.9 965.3 M1419.3 974.3L1406.2 982.6 M1450.8 992.5L1463.9 983.8" stroke="#32348a" stroke-width="6.4" fill="none" stroke-linecap="butt"/><path d="M1285.7 965.3L1272.6 973.2 M1317.1 982.6L1330.2 974.3 M1330.2 956.7L1317.1 964.2 M1361.7 973.2L1374.8 965.3 M1361.7 992.5L1374.8 983.8 M1419.3 956.7L1406.2 964.2 M1450.8 973.2L1463.9 965.3 M1419.3 974.3L1406.2 982.6 M1450.8 992.5L1463.9 983.8" stroke="#5254b6" stroke-width="1.8" fill="none" stroke-linecap="butt" transform="translate(-1.1,-1.1)"/><ellipse cx="1275.4" cy="969.1" rx="7" ry="7.6" fill="url(#gN)" transform="rotate(0 1275.4 969.1)"/><ellipse cx="1272.9" cy="994" rx="11" ry="8.6" fill="url(#gO)" transform="rotate(-10 1272.9 994)"/></g>
<g transform="translate(0,-295.8)"><path d="M1870.6 973.7L1900.3 973.7 M1915.1 964.7L1902.4 959.8 M1902.4 959.8L1884.3 959.8 M1902.4 959.8L1917.2 953.9 M1915.1 983.2L1902.4 988.7 M1902.4 988.7L1884.3 988.7 M1902.4 988.7L1917.2 996" stroke="#6e6e6e" stroke-width="2.7" fill="none" stroke-linecap="round" stroke-linejoin="round" transform="translate(0,0.8)"/><path d="M1870.6 973.7L1900.3 973.7 M1915.1 964.7L1902.4 959.8 M1902.4 959.8L1884.3 959.8 M1902.4 959.8L1917.2 953.9 M1915.1 983.2L1902.4 988.7 M1902.4 988.7L1884.3 988.7 M1902.4 988.7L1917.2 996" stroke="#a8a8a8" stroke-width="1.3" fill="none" stroke-linecap="round" stroke-linejoin="round" transform="translate(0,-0.6)"/><path d="M1855.8 963.9L1867.6 958 M1855.8 982.3L1867.6 989.1" stroke="#555" stroke-width="3.6" fill="none" stroke-linecap="round" stroke-linejoin="round" transform="translate(0,0.8)"/><path d="M1855.8 963.9L1867.6 958 M1855.8 982.3L1867.6 989.1" stroke="#8c8c8c" stroke-width="2.2" fill="none" stroke-linecap="round" stroke-linejoin="round" transform="translate(0,-0.6)"/><ellipse cx="1868.5" cy="956.6" rx="11" ry="8.6" fill="url(#gO)" transform="rotate(-10 1868.5 956.6)"/><path d="M1944.8 964.7L1959.7 973.7 M1915.1 983.2L1900.3 973.7" stroke="#8286e6" stroke-width="6" fill="none" stroke-linecap="round"/><path d="M1944.8 964.7L1959.7 973.7 M1915.1 983.2L1900.3 973.7" stroke="#5254b6" stroke-width="1.5" fill="none" stroke-linecap="butt" transform="translate(0.9,-0.9)"/><path d="M1915.1 964.7L1944.8 964.7 M1944.8 983.2L1915.1 983.2" stroke="#5254b6" stroke-width="6" fill="none" stroke-linecap="round"/><path d="M1915.1 964.7L1944.8 964.7 M1944.8 983.2L1915.1 983.2" stroke="#8286e6" stroke-width="3" fill="none" stroke-linecap="butt" transform="translate(0,1.4)"/><path d="M1901.2 973.2L1914.3 965.3 M1958.8 974.3L1945.7 982.6" stroke="#32348a" stroke-width="6.4" fill="none" stroke-linecap="butt"/><path d="M1901.2 973.2L1914.3 965.3 M1958.8 974.3L1945.7 982.6" stroke="#5254b6" stroke-width="1.8" fill="none" stroke-linecap="butt" transform="translate(-1.1,-1.1)"/><path d="M1855.8 964.7L1870.6 973.7 M1826 983.2L1811.2 973.7 M1811.2 956.2L1826 964.7 M1781.5 973.7L1766.6 964.7 M1781.5 993.1L1766.6 983.2 M1722.1 956.2L1737 964.7 M1692.4 973.7L1677.5 964.7 M1722.1 973.7L1737 983.2 M1692.4 993.1L1677.5 983.2" stroke="#8286e6" stroke-width="6" fill="none" stroke-linecap="round"/><path d="M1855.8 964.7L1870.6 973.7 M1826 983.2L1811.2 973.7 M1811.2 956.2L1826 964.7 M1781.5 973.7L1766.6 964.7 M1781.5 993.1L1766.6 983.2 M1722.1 956.2L1737 964.7 M1692.4 973.7L1677.5 964.7 M1722.1 973.7L1737 983.2 M1692.4 993.1L1677.5 983.2" stroke="#5254b6" stroke-width="1.5" fill="none" stroke-linecap="butt" transform="translate(0.9,-0.9)"/><path d="M1826 964.7L1855.8 964.7 M1855.8 983.2L1826 983.2 M1781.5 956.2L1811.2 956.2 M1811.2 973.7L1781.5 973.7 M1811.2 993.1L1781.5 993.1 M1692.4 956.2L1722.1 956.2 M1722.1 973.7L1692.4 973.7 M1722.1 993.1L1692.4 993.1 M1737 964.7L1766.6 964.7 M1766.6 983.2L1737 983.2" stroke="#5254b6" stroke-width="6" fill="none" stroke-linecap="round"/><path d="M1826 964.7L1855.8 964.7 M1855.8 983.2L1826 983.2 M1781.5 956.2L1811.2 956.2 M1811.2 973.7L1781.5 973.7 M1811.2 993.1L1781.5 993.1 M1692.4 956.2L1722.1 956.2 M1722.1 973.7L1692.4 973.7 M1722.1 993.1L1692.4 993.1 M1737 964.7L1766.6 964.7 M1766.6 983.2L1737 983.2" stroke="#8286e6" stroke-width="3" fill="none" stroke-linecap="butt" transform="translate(0,1.4)"/><path d="M1812.1 973.2L1825.2 965.3 M1869.7 974.3L1856.6 982.6 M1767.5 964.2L1780.6 956.7 M1767.5 982.6L1780.6 974.3 M1825.2 983.8L1812.1 992.5 M1678.4 964.2L1691.5 956.7 M1736.1 965.3L1723 973.2 M1678.4 982.6L1691.5 974.3 M1736.1 983.8L1723 992.5" stroke="#32348a" stroke-width="6.4" fill="none" stroke-linecap="butt"/><path d="M1812.1 973.2L1825.2 965.3 M1869.7 974.3L1856.6 982.6 M1767.5 964.2L1780.6 956.7 M1767.5 982.6L1780.6 974.3 M1825.2 983.8L1812.1 992.5 M1678.4 964.2L1691.5 956.7 M1736.1 965.3L1723 973.2 M1678.4 982.6L1691.5 974.3 M1736.1 983.8L1723 992.5" stroke="#5254b6" stroke-width="1.8" fill="none" stroke-linecap="butt" transform="translate(-1.1,-1.1)"/><ellipse cx="1866.9" cy="969.1" rx="7" ry="7.6" fill="url(#gN)" transform="rotate(0 1866.9 969.1)"/><ellipse cx="1869.4" cy="994" rx="11" ry="8.6" fill="url(#gO)" transform="rotate(-10 1869.4 994)"/></g>
<g transform="translate(0,-285)"><path d="M1041.1 1131.9L1013.3 1135.8 M983.7 1132.4L981.9 1128.1 M981.9 1128.1L956.4 1126.6 M981.9 1128.1L993.9 1124.5 M1023.4 1146.5L1047.7 1150.7 M1047.7 1150.7L1061.2 1146.5 M1047.7 1150.7L1050.5 1156.4" stroke="#6e6e6e" stroke-width="2.7" fill="none" stroke-linecap="round" stroke-linejoin="round" transform="translate(0,0.8)"/><path d="M1041.1 1131.9L1013.3 1135.8 M983.7 1132.4L981.9 1128.1 M981.9 1128.1L956.4 1126.6 M981.9 1128.1L993.9 1124.5 M1023.4 1146.5L1047.7 1150.7 M1047.7 1150.7L1061.2 1146.5 M1047.7 1150.7L1050.5 1156.4" stroke="#a8a8a8" stroke-width="1.3" fill="none" stroke-linecap="round" stroke-linejoin="round" transform="translate(0,-0.6)"/><path d="M1033.2 1122.8L1012.3 1119.6 M1071.8 1135.6L1074.6 1142.2" stroke="#555" stroke-width="3.6" fill="none" stroke-linecap="round" stroke-linejoin="round" transform="translate(0,0.8)"/><path d="M1033.2 1122.8L1012.3 1119.6 M1071.8 1135.6L1074.6 1142.2" stroke="#8c8c8c" stroke-width="2.2" fill="none" stroke-linecap="round" stroke-linejoin="round" transform="translate(0,-0.6)"/><ellipse cx="1001.7" cy="1117.9" rx="12" ry="8.5" fill="url(#gO)" transform="rotate(15 1001.7 1117.9)"/><path d="M960.9 1139.5L983.7 1132.4 M999.9 1152.7L1023.4 1146.5" stroke="#c8980e" stroke-width="6.2" fill="none" stroke-linecap="round"/><path d="M960.9 1139.5L983.7 1132.4 M999.9 1152.7L1023.4 1146.5" stroke="#f7c81e" stroke-width="2.1" fill="none" stroke-linecap="butt" transform="translate(0.3,1.9)"/><path d="M983.7 1132.4L1013.3 1135.8 M972.3 1149L999.9 1152.7" stroke="#f7c81e" stroke-width="6.2" fill="none" stroke-linecap="round"/><path d="M983.7 1132.4L1013.3 1135.8 M972.3 1149L999.9 1152.7" stroke="#c8980e" stroke-width="2.1" fill="none" stroke-linecap="butt" transform="translate(-0.2,2)"/><path d="M960.9 1139.5L972.3 1149 M1013.3 1135.8L1023.4 1146.5" stroke="#f7c81e" stroke-width="6.2" fill="none" stroke-linecap="round"/><path d="M1033.2 1122.8L1056 1117.4 M1071.8 1135.6L1094.6 1130.2 M1048.1 1108.3L1070.9 1102.9 M1086.7 1121.1L1109.5 1115.7 M1125.3 1133.9L1148.1 1128.5 M1116.5 1092.1L1139.3 1086.7 M1155.1 1104.9L1177.9 1099.5 M1193.7 1117.7L1216.5 1112.3 M1101.6 1106.6L1124.4 1101.2 M1140.2 1119.4L1163 1114" stroke="#c8980e" stroke-width="6.2" fill="none" stroke-linecap="round"/><path d="M1033.2 1122.8L1056 1117.4 M1071.8 1135.6L1094.6 1130.2 M1048.1 1108.3L1070.9 1102.9 M1086.7 1121.1L1109.5 1115.7 M1125.3 1133.9L1148.1 1128.5 M1116.5 1092.1L1139.3 1086.7 M1155.1 1104.9L1177.9 1099.5 M1193.7 1117.7L1216.5 1112.3 M1101.6 1106.6L1124.4 1101.2 M1140.2 1119.4L1163 1114" stroke="#f7c81e" stroke-width="2.1" fill="none" stroke-linecap="butt" transform="translate(0.3,1.9)"/><path d="M1056 1117.4L1086.7 1121.1 M1041.1 1131.9L1071.8 1135.6 M1070.9 1102.9L1101.6 1106.6 M1109.5 1115.7L1140.2 1119.4 M1094.6 1130.2L1125.3 1133.9 M1139.3 1086.7L1170 1090.4 M1124.4 1101.2L1155.1 1104.9 M1177.9 1099.5L1208.6 1103.2 M1163 1114L1193.7 1117.7" stroke="#f7c81e" stroke-width="6.2" fill="none" stroke-linecap="round"/><path d="M1056 1117.4L1086.7 1121.1 M1041.1 1131.9L1071.8 1135.6 M1070.9 1102.9L1101.6 1106.6 M1109.5 1115.7L1140.2 1119.4 M1094.6 1130.2L1125.3 1133.9 M1139.3 1086.7L1170 1090.4 M1124.4 1101.2L1155.1 1104.9 M1177.9 1099.5L1208.6 1103.2 M1163 1114L1193.7 1117.7" stroke="#c8980e" stroke-width="2.1" fill="none" stroke-linecap="butt" transform="translate(-0.2,2)"/><path d="M1033.2 1122.8L1041.1 1131.9 M1086.7 1121.1L1094.6 1130.2 M1048.1 1108.3L1056 1117.4 M1101.6 1106.6L1109.5 1115.7 M1140.2 1119.4L1148.1 1128.5 M1116.5 1092.1L1124.4 1101.2 M1170 1090.4L1177.9 1099.5 M1155.1 1104.9L1163 1114 M1208.6 1103.2L1216.5 1112.3" stroke="#f7c81e" stroke-width="6.2" fill="none" stroke-linecap="round"/><ellipse cx="1041.1" cy="1131.9" rx="7.4" ry="7.4" fill="url(#gN)" transform="rotate(0 1041.1 1131.9)"/><ellipse cx="1079.1" cy="1150" rx="12.5" ry="9.8" fill="url(#gO)" transform="rotate(30 1079.1 1150)"/></g>
<g transform="translate(0,-285)"><path d="M1503.7 1024.6L1530.9 1021.2 M1522.6 1011.4L1499 1009.8 M1499 1009.8L1485.8 1013.4 M1499 1009.8L1496.8 1003.9 M1561.6 1025.4L1564.2 1030.3 M1564.2 1030.3L1589.8 1033.2 M1564.2 1030.3L1550.2 1033.9" stroke="#6e6e6e" stroke-width="2.7" fill="none" stroke-linecap="round" stroke-linejoin="round" transform="translate(0,0.8)"/><path d="M1503.7 1024.6L1530.9 1021.2 M1522.6 1011.4L1499 1009.8 M1499 1009.8L1485.8 1013.4 M1499 1009.8L1496.8 1003.9 M1561.6 1025.4L1564.2 1030.3 M1564.2 1030.3L1589.8 1033.2 M1564.2 1030.3L1550.2 1033.9" stroke="#a8a8a8" stroke-width="1.3" fill="none" stroke-linecap="round" stroke-linejoin="round" transform="translate(0,-0.6)"/><path d="M1472.7 1020.7L1470.4 1014.9 M1511.9 1033.9L1535.6 1039.1" stroke="#555" stroke-width="3.6" fill="none" stroke-linecap="round" stroke-linejoin="round" transform="translate(0,0.8)"/><path d="M1472.7 1020.7L1470.4 1014.9 M1511.9 1033.9L1535.6 1039.1" stroke="#8c8c8c" stroke-width="2.2" fill="none" stroke-linecap="round" stroke-linejoin="round" transform="translate(0,-0.6)"/><ellipse cx="1467.5" cy="1009.8" rx="12" ry="8" fill="url(#gO)" transform="rotate(20 1467.5 1009.8)"/><path d="M1522.6 1011.4L1546.2 1004.5 M1561.6 1025.4L1585.9 1019.8" stroke="#c8980e" stroke-width="6.2" fill="none" stroke-linecap="round"/><path d="M1522.6 1011.4L1546.2 1004.5 M1561.6 1025.4L1585.9 1019.8" stroke="#f7c81e" stroke-width="2.1" fill="none" stroke-linecap="butt" transform="translate(0.3,1.9)"/><path d="M1546.2 1004.5L1576.9 1008.7 M1530.9 1021.2L1561.6 1025.4" stroke="#f7c81e" stroke-width="6.2" fill="none" stroke-linecap="round"/><path d="M1546.2 1004.5L1576.9 1008.7 M1530.9 1021.2L1561.6 1025.4" stroke="#c8980e" stroke-width="2.1" fill="none" stroke-linecap="butt" transform="translate(-0.2,2)"/><path d="M1522.6 1011.4L1530.9 1021.2 M1576.9 1008.7L1585.9 1019.8" stroke="#f7c81e" stroke-width="6.2" fill="none" stroke-linecap="round"/><path d="M1449.9 1026.1L1472.7 1020.7 M1489.1 1039.3L1511.9 1033.9 M1396.2 1027.6L1419 1022.2 M1435.3 1040.8L1458.1 1035.4 M1474.4 1054L1497.2 1048.6 M1327.8 1043.8L1350.6 1038.4 M1366.9 1057L1389.7 1051.6 M1406 1070.2L1428.8 1064.8 M1381.5 1042.3L1404.3 1036.9 M1420.7 1055.5L1443.5 1050.1" stroke="#c8980e" stroke-width="6.2" fill="none" stroke-linecap="round"/><path d="M1449.9 1026.1L1472.7 1020.7 M1489.1 1039.3L1511.9 1033.9 M1396.2 1027.6L1419 1022.2 M1435.3 1040.8L1458.1 1035.4 M1474.4 1054L1497.2 1048.6 M1327.8 1043.8L1350.6 1038.4 M1366.9 1057L1389.7 1051.6 M1406 1070.2L1428.8 1064.8 M1381.5 1042.3L1404.3 1036.9 M1420.7 1055.5L1443.5 1050.1" stroke="#f7c81e" stroke-width="2.1" fill="none" stroke-linecap="butt" transform="translate(0.3,1.9)"/><path d="M1472.7 1020.7L1503.7 1024.6 M1458.1 1035.4L1489.1 1039.3 M1419 1022.2L1449.9 1026.1 M1404.3 1036.9L1435.3 1040.8 M1443.5 1050.1L1474.4 1054 M1350.6 1038.4L1381.5 1042.3 M1335.9 1053.1L1366.9 1057 M1389.7 1051.6L1420.7 1055.5 M1375.1 1066.3L1406 1070.2" stroke="#f7c81e" stroke-width="6.2" fill="none" stroke-linecap="round"/><path d="M1472.7 1020.7L1503.7 1024.6 M1458.1 1035.4L1489.1 1039.3 M1419 1022.2L1449.9 1026.1 M1404.3 1036.9L1435.3 1040.8 M1443.5 1050.1L1474.4 1054 M1350.6 1038.4L1381.5 1042.3 M1335.9 1053.1L1366.9 1057 M1389.7 1051.6L1420.7 1055.5 M1375.1 1066.3L1406 1070.2" stroke="#c8980e" stroke-width="2.1" fill="none" stroke-linecap="butt" transform="translate(-0.2,2)"/><path d="M1449.9 1026.1L1458.1 1035.4 M1503.7 1024.6L1511.9 1033.9 M1396.2 1027.6L1404.3 1036.9 M1435.3 1040.8L1443.5 1050.1 M1489.1 1039.3L1497.2 1048.6 M1327.8 1043.8L1335.9 1053.1 M1381.5 1042.3L1389.7 1051.6 M1366.9 1057L1375.1 1066.3 M1420.7 1055.5L1428.8 1064.8" stroke="#f7c81e" stroke-width="6.2" fill="none" stroke-linecap="round"/><ellipse cx="1503.7" cy="1024.6" rx="7.4" ry="7.4" fill="url(#gN)" transform="rotate(0 1503.7 1024.6)"/><ellipse cx="1544.4" cy="1042.7" rx="12.3" ry="9.6" fill="url(#gO)" transform="rotate(25 1544.4 1042.7)"/></g>
<g transform="translate(-1,-285.5) translate(1252,1066) scale(1.0) translate(-1252,-1066)"><line x1="1174" y1="1093" x2="1200" y2="1086.500" stroke="#8c8c8c" stroke-width="2.4"/><line x1="1321" y1="1059.500" x2="1334" y2="1055.600" stroke="#8c8c8c" stroke-width="2.4"/><path d="M1179 1066 L1179 1076 Q1179 1080 1184 1082 L1212 1092 Q1220 1094 1226 1092 L1319 1062 Q1324.500 1060 1324.500 1056 L1324.500 1050 L1220 1079 Z" fill="url(#gt_yellow)"/><path d="M1179 1068 L1179 1076 Q1179 1080 1184 1082 L1212 1092 Q1214 1092.700 1215.500 1092.900 L1215.500 1079 Z" fill="#a87c10"/><path d="M1183 1063.500 Q1177 1066 1184 1068.500 L1211 1078 Q1220 1080.500 1229 1078 L1319 1053 Q1327 1050 1320 1048 L1290 1040.500 Q1283 1039 1275 1041 Z" fill="#fcc40f"/></g>
<g transform="translate(0,0)"><line x1="1466" y1="965.8" x2="1500" y2="965.8" stroke="#a4a4a4" stroke-width="2.4"/><line x1="1639" y1="966" x2="1677" y2="966" stroke="#a4a4a4" stroke-width="2.4"/><rect x="1498.5" y="951" width="141.5" height="26.4" rx="6.500" fill="url(#gb_orange)"/><rect x="1505.2" y="971.8" width="128.1" height="5" fill="url(#gh_orange)"/><rect x="1498.2" y="943" width="142.1" height="23.7" rx="6.500" fill="#ffa777"/></g>
<g transform="translate(0,0)"><path d="M1271.7 973.7L1242 973.7 M1227.2 964.7L1239.9 959.8 M1239.9 959.8L1258 959.8 M1239.9 959.8L1225.1 953.9 M1227.2 983.2L1239.9 988.7 M1239.9 988.7L1258 988.7 M1239.9 988.7L1225.1 996" stroke="#6e6e6e" stroke-width="2.7" fill="none" stroke-linecap="round" stroke-linejoin="round" transform="translate(0,0.8)"/><path d="M1271.7 973.7L1242 973.7 M1227.2 964.7L1239.9 959.8 M1239.9 959.8L1258 959.8 M1239.9 959.8L1225.1 953.9 M1227.2 983.2L1239.9 988.7 M1239.9 988.7L1258 988.7 M1239.9 988.7L1225.1 996" stroke="#a8a8a8" stroke-width="1.3" fill="none" stroke-linecap="round" stroke-linejoin="round" transform="translate(0,-0.6)"/><path d="M1286.5 963.9L1274.7 958 M1286.5 982.3L1274.7 989.1" stroke="#555" stroke-width="3.6" fill="none" stroke-linecap="round" stroke-linejoin="round" transform="translate(0,0.8)"/><path d="M1286.5 963.9L1274.7 958 M1286.5 982.3L1274.7 989.1" stroke="#8c8c8c" stroke-width="2.2" fill="none" stroke-linecap="round" stroke-linejoin="round" transform="translate(0,-0.6)"/><ellipse cx="1273.8" cy="956.6" rx="11" ry="8.6" fill="url(#gO)" transform="rotate(-10 1273.8 956.6)"/><path d="M1242 973.7L1227.2 964.7 M1182.6 973.7L1197.5 983.2" stroke="#8286e6" stroke-width="6" fill="none" stroke-linecap="round"/><path d="M1242 973.7L1227.2 964.7 M1182.6 973.7L1197.5 983.2" stroke="#5254b6" stroke-width="1.5" fill="none" stroke-linecap="butt" transform="translate(0.9,-0.9)"/><path d="M1227.2 964.7L1197.5 964.7 M1197.5 983.2L1227.2 983.2" stroke="#5254b6" stroke-width="6" fill="none" stroke-linecap="round"/><path d="M1227.2 964.7L1197.5 964.7 M1197.5 983.2L1227.2 983.2" stroke="#8286e6" stroke-width="3" fill="none" stroke-linecap="butt" transform="translate(0,1.4)"/><path d="M1196.6 965.3L1183.5 973.2 M1228 982.6L1241.1 974.3" stroke="#32348a" stroke-width="6.4" fill="none" stroke-linecap="butt"/><path d="M1196.6 965.3L1183.5 973.2 M1228 982.6L1241.1 974.3" stroke="#5254b6" stroke-width="1.8" fill="none" stroke-linecap="butt" transform="translate(-1.1,-1.1)"/><path d="M1331.1 973.7L1316.2 964.7 M1271.7 973.7L1286.5 983.2 M1375.7 964.7L1360.8 956.2 M1375.7 983.2L1360.8 973.7 M1316.2 983.2L1331.1 993.1 M1464.8 964.7L1449.9 956.2 M1405.3 964.7L1420.2 973.7 M1464.8 983.2L1449.9 973.7 M1405.3 983.2L1420.2 993.1" stroke="#8286e6" stroke-width="6" fill="none" stroke-linecap="round"/><path d="M1331.1 973.7L1316.2 964.7 M1271.7 973.7L1286.5 983.2 M1375.7 964.7L1360.8 956.2 M1375.7 983.2L1360.8 973.7 M1316.2 983.2L1331.1 993.1 M1464.8 964.7L1449.9 956.2 M1405.3 964.7L1420.2 973.7 M1464.8 983.2L1449.9 973.7 M1405.3 983.2L1420.2 993.1" stroke="#5254b6" stroke-width="1.5" fill="none" stroke-linecap="butt" transform="translate(0.9,-0.9)"/><path d="M1316.2 964.7L1286.5 964.7 M1286.5 983.2L1316.2 983.2 M1360.8 956.2L1331.1 956.2 M1331.1 973.7L1360.8 973.7 M1331.1 993.1L1360.8 993.1 M1449.9 956.2L1420.2 956.2 M1420.2 973.7L1449.9 973.7 M1420.2 993.1L1449.9 993.1 M1405.3 964.7L1375.7 964.7 M1375.7 983.2L1405.3 983.2" stroke="#5254b6" stroke-width="6" fill="none" stroke-linecap="round"/><path d="M1316.2 964.7L1286.5 964.7 M1286.5 983.2L1316.2 983.2 M1360.8 956.2L1331.1 956.2 M1331.1 973.7L1360.8 973.7 M1331.1 993.1L1360.8 993.1 M1449.9 956.2L1420.2 956.2 M1420.2 973.7L1449.9 973.7 M1420.2 993.1L1449.9 993.1 M1405.3 964.7L1375.7 964.7 M1375.7 983.2L1405.3 983.2" stroke="#8286e6" stroke-width="3" fill="none" stroke-linecap="butt" transform="translate(0,1.4)"/><path d="M1285.7 965.3L1272.6 973.2 M1317.1 982.6L1330.2 974.3 M1330.2 956.7L1317.1 964.2 M1361.7 973.2L1374.8 965.3 M1361.7 992.5L1374.8 983.8 M1419.3 956.7L1406.2 964.2 M1450.8 973.2L1463.9 965.3 M1419.3 974.3L1406.2 982.6 M1450.8 992.5L1463.9 983.8" stroke="#32348a" stroke-width="6.4" fill="none" stroke-linecap="butt"/><path d="M1285.7 965.3L1272.6 973.2 M1317.1 982.6L1330.2 974.3 M1330.2 956.7L1317.1 964.2 M1361.7 973.2L1374.8 965.3 M1361.7 992.5L1374.8 983.8 M1419.3 956.7L1406.2 964.2 M1450.8 973.2L1463.9 965.3 M1419.3 974.3L1406.2 982.6 M1450.8 992.5L1463.9 983.8" stroke="#5254b6" stroke-width="1.8" fill="none" stroke-linecap="butt" transform="translate(-1.1,-1.1)"/><ellipse cx="1275.4" cy="969.1" rx="7" ry="7.6" fill="url(#gN)" transform="rotate(0 1275.4 969.1)"/><ellipse cx="1272.9" cy="994" rx="11" ry="8.6" fill="url(#gO)" transform="rotate(-10 1272.9 994)"/></g>
<g transform="translate(0,0)"><path d="M1870.6 973.7L1900.3 973.7 M1915.1 964.7L1902.4 959.8 M1902.4 959.8L1884.3 959.8 M1902.4 959.8L1917.2 953.9 M1915.1 983.2L1902.4 988.7 M1902.4 988.7L1884.3 988.7 M1902.4 988.7L1917.2 996" stroke="#6e6e6e" stroke-width="2.7" fill="none" stroke-linecap="round" stroke-linejoin="round" transform="translate(0,0.8)"/><path d="M1870.6 973.7L1900.3 973.7 M1915.1 964.7L1902.4 959.8 M1902.4 959.8L1884.3 959.8 M1902.4 959.8L1917.2 953.9 M1915.1 983.2L1902.4 988.7 M1902.4 988.7L1884.3 988.7 M1902.4 988.7L1917.2 996" stroke="#a8a8a8" stroke-width="1.3" fill="none" stroke-linecap="round" stroke-linejoin="round" transform="translate(0,-0.6)"/><path d="M1855.8 963.9L1867.6 958 M1855.8 982.3L1867.6 989.1" stroke="#555" stroke-width="3.6" fill="none" stroke-linecap="round" stroke-linejoin="round" transform="translate(0,0.8)"/><path d="M1855.8 963.9L1867.6 958 M1855.8 982.3L1867.6 989.1" stroke="#8c8c8c" stroke-width="2.2" fill="none" stroke-linecap="round" stroke-linejoin="round" transform="translate(0,-0.6)"/><ellipse cx="1868.5" cy="956.6" rx="11" ry="8.6" fill="url(#gO)" transform="rotate(-10 1868.5 956.6)"/><path d="M1944.8 964.7L1959.7 973.7 M1915.1 983.2L1900.3 973.7" stroke="#8286e6" stroke-width="6" fill="none" stroke-linecap="round"/><path d="M1944.8 964.7L1959.7 973.7 M1915.1 983.2L1900.3 973.7" stroke="#5254b6" stroke-width="1.5" fill="none" stroke-linecap="butt" transform="translate(0.9,-0.9)"/><path d="M1915.1 964.7L1944.8 964.7 M1944.8 983.2L1915.1 983.2" stroke="#5254b6" stroke-width="6" fill="none" stroke-linecap="round"/><path d="M1915.1 964.7L1944.8 964.7 M1944.8 983.2L1915.1 983.2" stroke="#8286e6" stroke-width="3" fill="none" stroke-linecap="butt" transform="translate(0,1.4)"/><path d="M1901.2 973.2L1914.3 965.3 M1958.8 974.3L1945.7 982.6" stroke="#32348a" stroke-width="6.4" fill="none" stroke-linecap="butt"/><path d="M1901.2 973.2L1914.3 965.3 M1958.8 974.3L1945.7 982.6" stroke="#5254b6" stroke-width="1.8" fill="none" stroke-linecap="butt" transform="translate(-1.1,-1.1)"/><path d="M1855.8 964.7L1870.6 973.7 M1826 983.2L1811.2 973.7 M1811.2 956.2L1826 964.7 M1781.5 973.7L1766.6 964.7 M1781.5 993.1L1766.6 983.2 M1722.1 956.2L1737 964.7 M1692.4 973.7L1677.5 964.7 M1722.1 973.7L1737 983.2 M1692.4 993.1L1677.5 983.2" stroke="#8286e6" stroke-width="6" fill="none" stroke-linecap="round"/><path d="M1855.8 964.7L1870.6 973.7 M1826 983.2L1811.2 973.7 M1811.2 956.2L1826 964.7 M1781.5 973.7L1766.6 964.7 M1781.5 993.1L1766.6 983.2 M1722.1 956.2L1737 964.7 M1692.4 973.7L1677.5 964.7 M1722.1 973.7L1737 983.2 M1692.4 993.1L1677.5 983.2" stroke="#5254b6" stroke-width="1.5" fill="none" stroke-linecap="butt" transform="translate(0.9,-0.9)"/><path d="M1826 964.7L1855.8 964.7 M1855.8 983.2L1826 983.2 M1781.5 956.2L1811.2 956.2 M1811.2 973.7L1781.5 973.7 M1811.2 993.1L1781.5 993.1 M1692.4 956.2L1722.1 956.2 M1722.1 973.7L1692.4 973.7 M1722.1 993.1L1692.4 993.1 M1737 964.7L1766.6 964.7 M1766.6 983.2L1737 983.2" stroke="#5254b6" stroke-width="6" fill="none" stroke-linecap="round"/><path d="M1826 964.7L1855.8 964.7 M1855.8 983.2L1826 983.2 M1781.5 956.2L1811.2 956.2 M1811.2 973.7L1781.5 973.7 M1811.2 993.1L1781.5 993.1 M1692.4 956.2L1722.1 956.2 M1722.1 973.7L1692.4 973.7 M1722.1 993.1L1692.4 993.1 M1737 964.7L1766.6 964.7 M1766.6 983.2L1737 983.2" stroke="#8286e6" stroke-width="3" fill="none" stroke-linecap="butt" transform="translate(0,1.4)"/><path d="M1812.1 973.2L1825.2 965.3 M1869.7 974.3L1856.6 982.6 M1767.5 964.2L1780.6 956.7 M1767.5 982.6L1780.6 974.3 M1825.2 983.8L1812.1 992.5 M1678.4 964.2L1691.5 956.7 M1736.1 965.3L1723 973.2 M1678.4 982.6L1691.5 974.3 M1736.1 983.8L1723 992.5" stroke="#32348a" stroke-width="6.4" fill="none" stroke-linecap="butt"/><path d="M1812.1 973.2L1825.2 965.3 M1869.7 974.3L1856.6 982.6 M1767.5 964.2L1780.6 956.7 M1767.5 982.6L1780.6 974.3 M1825.2 983.8L1812.1 992.5 M1678.4 964.2L1691.5 956.7 M1736.1 965.3L1723 973.2 M1678.4 982.6L1691.5 974.3 M1736.1 983.8L1723 992.5" stroke="#5254b6" stroke-width="1.8" fill="none" stroke-linecap="butt" transform="translate(-1.1,-1.1)"/><ellipse cx="1866.9" cy="969.1" rx="7" ry="7.6" fill="url(#gN)" transform="rotate(0 1866.9 969.1)"/><ellipse cx="1869.4" cy="994" rx="11" ry="8.6" fill="url(#gO)" transform="rotate(-10 1869.4 994)"/></g>
<g transform="translate(0,0)"><path d="M1041.1 1131.9L1013.3 1135.8 M983.7 1132.4L981.9 1128.1 M981.9 1128.1L956.4 1126.6 M981.9 1128.1L993.9 1124.5 M1023.4 1146.5L1047.7 1150.7 M1047.7 1150.7L1061.2 1146.5 M1047.7 1150.7L1050.5 1156.4" stroke="#6e6e6e" stroke-width="2.7" fill="none" stroke-linecap="round" stroke-linejoin="round" transform="translate(0,0.8)"/><path d="M1041.1 1131.9L1013.3 1135.8 M983.7 1132.4L981.9 1128.1 M981.9 1128.1L956.4 1126.6 M981.9 1128.1L993.9 1124.5 M1023.4 1146.5L1047.7 1150.7 M1047.7 1150.7L1061.2 1146.5 M1047.7 1150.7L1050.5 1156.4" stroke="#a8a8a8" stroke-width="1.3" fill="none" stroke-linecap="round" stroke-linejoin="round" transform="translate(0,-0.6)"/><path d="M1033.2 1122.8L1012.3 1119.6 M1071.8 1135.6L1074.6 1142.2" stroke="#555" stroke-width="3.6" fill="none" stroke-linecap="round" stroke-linejoin="round" transform="translate(0,0.8)"/><path d="M1033.2 1122.8L1012.3 1119.6 M1071.8 1135.6L1074.6 1142.2" stroke="#8c8c8c" stroke-width="2.2" fill="none" stroke-linecap="round" stroke-linejoin="round" transform="translate(0,-0.6)"/><ellipse cx="1001.7" cy="1117.9" rx="12" ry="8.5" fill="url(#gO)" transform="rotate(15 1001.7 1117.9)"/><path d="M960.9 1139.5L983.7 1132.4 M999.9 1152.7L1023.4 1146.5" stroke="#5254b6" stroke-width="6.2" fill="none" stroke-linecap="round"/><path d="M960.9 1139.5L983.7 1132.4 M999.9 1152.7L1023.4 1146.5" stroke="#8286e6" stroke-width="2.1" fill="none" stroke-linecap="butt" transform="translate(0.3,1.9)"/><path d="M983.7 1132.4L1013.3 1135.8 M972.3 1149L999.9 1152.7" stroke="#8286e6" stroke-width="6.2" fill="none" stroke-linecap="round"/><path d="M983.7 1132.4L1013.3 1135.8 M972.3 1149L999.9 1152.7" stroke="#5254b6" stroke-width="2.1" fill="none" stroke-linecap="butt" transform="translate(-0.2,2)"/><path d="M960.9 1139.5L972.3 1149 M1013.3 1135.8L1023.4 1146.5" stroke="#8286e6" stroke-width="6.2" fill="none" stroke-linecap="round"/><path d="M1033.2 1122.8L1056 1117.4 M1071.8 1135.6L1094.6 1130.2 M1048.1 1108.3L1070.9 1102.9 M1086.7 1121.1L1109.5 1115.7 M1125.3 1133.9L1148.1 1128.5 M1116.5 1092.1L1139.3 1086.7 M1155.1 1104.9L1177.9 1099.5 M1193.7 1117.7L1216.5 1112.3 M1101.6 1106.6L1124.4 1101.2 M1140.2 1119.4L1163 1114" stroke="#5254b6" stroke-width="6.2" fill="none" stroke-linecap="round"/><path d="M1033.2 1122.8L1056 1117.4 M1071.8 1135.6L1094.6 1130.2 M1048.1 1108.3L1070.9 1102.9 M1086.7 1121.1L1109.5 1115.7 M1125.3 1133.9L1148.1 1128.5 M1116.5 1092.1L1139.3 1086.7 M1155.1 1104.9L1177.9 1099.5 M1193.7 1117.7L1216.5 1112.3 M1101.6 1106.6L1124.4 1101.2 M1140.2 1119.4L1163 1114" stroke="#8286e6" stroke-width="2.1" fill="none" stroke-linecap="butt" transform="translate(0.3,1.9)"/><path d="M1056 1117.4L1086.7 1121.1 M1041.1 1131.9L1071.8 1135.6 M1070.9 1102.9L1101.6 1106.6 M1109.5 1115.7L1140.2 1119.4 M1094.6 1130.2L1125.3 1133.9 M1139.3 1086.7L1170 1090.4 M1124.4 1101.2L1155.1 1104.9 M1177.9 1099.5L1208.6 1103.2 M1163 1114L1193.7 1117.7" stroke="#8286e6" stroke-width="6.2" fill="none" stroke-linecap="round"/><path d="M1056 1117.4L1086.7 1121.1 M1041.1 1131.9L1071.8 1135.6 M1070.9 1102.9L1101.6 1106.6 M1109.5 1115.7L1140.2 1119.4 M1094.6 1130.2L1125.3 1133.9 M1139.3 1086.7L1170 1090.4 M1124.4 1101.2L1155.1 1104.9 M1177.9 1099.5L1208.6 1103.2 M1163 1114L1193.7 1117.7" stroke="#5254b6" stroke-width="2.1" fill="none" stroke-linecap="butt" transform="translate(-0.2,2)"/><path d="M1033.2 1122.8L1041.1 1131.9 M1086.7 1121.1L1094.6 1130.2 M1048.1 1108.3L1056 1117.4 M1101.6 1106.6L1109.5 1115.7 M1140.2 1119.4L1148.1 1128.5 M1116.5 1092.1L1124.4 1101.2 M1170 1090.4L1177.9 1099.5 M1155.1 1104.9L1163 1114 M1208.6 1103.2L1216.5 1112.3" stroke="#8286e6" stroke-width="6.2" fill="none" stroke-linecap="round"/><ellipse cx="1041.1" cy="1131.9" rx="7.4" ry="7.4" fill="url(#gN)" transform="rotate(0 1041.1 1131.9)"/><ellipse cx="1079.1" cy="1150" rx="12.5" ry="9.8" fill="url(#gO)" transform="rotate(30 1079.1 1150)"/></g>
<g transform="translate(0,0)"><path d="M1503.7 1024.6L1530.9 1021.2 M1522.6 1011.4L1499 1009.8 M1499 1009.8L1485.8 1013.4 M1499 1009.8L1496.8 1003.9 M1561.6 1025.4L1564.2 1030.3 M1564.2 1030.3L1589.8 1033.2 M1564.2 1030.3L1550.2 1033.9" stroke="#6e6e6e" stroke-width="2.7" fill="none" stroke-linecap="round" stroke-linejoin="round" transform="translate(0,0.8)"/><path d="M1503.7 1024.6L1530.9 1021.2 M1522.6 1011.4L1499 1009.8 M1499 1009.8L1485.8 1013.4 M1499 1009.8L1496.8 1003.9 M1561.6 1025.4L1564.2 1030.3 M1564.2 1030.3L1589.8 1033.2 M1564.2 1030.3L1550.2 1033.9" stroke="#a8a8a8" stroke-width="1.3" fill="none" stroke-linecap="round" stroke-linejoin="round" transform="translate(0,-0.6)"/><path d="M1472.7 1020.7L1470.4 1014.9 M1511.9 1033.9L1535.6 1039.1" stroke="#555" stroke-width="3.6" fill="none" stroke-linecap="round" stroke-linejoin="round" transform="translate(0,0.8)"/><path d="M1472.7 1020.7L1470.4 1014.9 M1511.9 1033.9L1535.6 1039.1" stroke="#8c8c8c" stroke-width="2.2" fill="none" stroke-linecap="round" stroke-linejoin="round" transform="translate(0,-0.6)"/><ellipse cx="1467.5" cy="1009.8" rx="12" ry="8" fill="url(#gO)" transform="rotate(20 1467.5 1009.8)"/><path d="M1522.6 1011.4L1546.2 1004.5 M1561.6 1025.4L1585.9 1019.8" stroke="#5254b6" stroke-width="6.2" fill="none" stroke-linecap="round"/><path d="M1522.6 1011.4L1546.2 1004.5 M1561.6 1025.4L1585.9 1019.8" stroke="#8286e6" stroke-width="2.1" fill="none" stroke-linecap="butt" transform="translate(0.3,1.9)"/><path d="M1546.2 1004.5L1576.9 1008.7 M1530.9 1021.2L1561.6 1025.4" stroke="#8286e6" stroke-width="6.2" fill="none" stroke-linecap="round"/><path d="M1546.2 1004.5L1576.9 1008.7 M1530.9 1021.2L1561.6 1025.4" stroke="#5254b6" stroke-width="2.1" fill="none" stroke-linecap="butt" transform="translate(-0.2,2)"/><path d="M1522.6 1011.4L1530.9 1021.2 M1576.9 1008.7L1585.9 1019.8" stroke="#8286e6" stroke-width="6.2" fill="none" stroke-linecap="round"/><path d="M1449.9 1026.1L1472.7 1020.7 M1489.1 1039.3L1511.9 1033.9 M1396.2 1027.6L1419 1022.2 M1435.3 1040.8L1458.1 1035.4 M1474.4 1054L1497.2 1048.6 M1327.8 1043.8L1350.6 1038.4 M1366.9 1057L1389.7 1051.6 M1406 1070.2L1428.8 1064.8 M1381.5 1042.3L1404.3 1036.9 M1420.7 1055.5L1443.5 1050.1" stroke="#5254b6" stroke-width="6.2" fill="none" stroke-linecap="round"/><path d="M1449.9 1026.1L1472.7 1020.7 M1489.1 1039.3L1511.9 1033.9 M1396.2 1027.6L1419 1022.2 M1435.3 1040.8L1458.1 1035.4 M1474.4 1054L1497.2 1048.6 M1327.8 1043.8L1350.6 1038.4 M1366.9 1057L1389.7 1051.6 M1406 1070.2L1428.8 1064.8 M1381.5 1042.3L1404.3 1036.9 M1420.7 1055.5L1443.5 1050.1" stroke="#8286e6" stroke-width="2.1" fill="none" stroke-linecap="butt" transform="translate(0.3,1.9)"/><path d="M1472.7 1020.7L1503.7 1024.6 M1458.1 1035.4L1489.1 1039.3 M1419 1022.2L1449.9 1026.1 M1404.3 1036.9L1435.3 1040.8 M1443.5 1050.1L1474.4 1054 M1350.6 1038.4L1381.5 1042.3 M1335.9 1053.1L1366.9 1057 M1389.7 1051.6L1420.7 1055.5 M1375.1 1066.3L1406 1070.2" stroke="#8286e6" stroke-width="6.2" fill="none" stroke-linecap="round"/><path d="M1472.7 1020.7L1503.7 1024.6 M1458.1 1035.4L1489.1 1039.3 M1419 1022.2L1449.9 1026.1 M1404.3 1036.9L1435.3 1040.8 M1443.5 1050.1L1474.4 1054 M1350.6 1038.4L1381.5 1042.3 M1335.9 1053.1L1366.9 1057 M1389.7 1051.6L1420.7 1055.5 M1375.1 1066.3L1406 1070.2" stroke="#5254b6" stroke-width="2.1" fill="none" stroke-linecap="butt" transform="translate(-0.2,2)"/><path d="M1449.9 1026.1L1458.1 1035.4 M1503.7 1024.6L1511.9 1033.9 M1396.2 1027.6L1404.3 1036.9 M1435.3 1040.8L1443.5 1050.1 M1489.1 1039.3L1497.2 1048.6 M1327.8 1043.8L1335.9 1053.1 M1381.5 1042.3L1389.7 1051.6 M1366.9 1057L1375.1 1066.3 M1420.7 1055.5L1428.8 1064.8" stroke="#8286e6" stroke-width="6.2" fill="none" stroke-linecap="round"/><ellipse cx="1503.7" cy="1024.6" rx="7.4" ry="7.4" fill="url(#gN)" transform="rotate(0 1503.7 1024.6)"/><ellipse cx="1544.4" cy="1042.7" rx="12.3" ry="9.6" fill="url(#gO)" transform="rotate(25 1544.4 1042.7)"/></g>
<g transform="translate(0,0) translate(1252,1066) scale(1.0) translate(-1252,-1066)"><line x1="1174" y1="1093" x2="1200" y2="1086.500" stroke="#8c8c8c" stroke-width="2.4"/><line x1="1321" y1="1059.500" x2="1334" y2="1055.600" stroke="#8c8c8c" stroke-width="2.4"/><path d="M1179 1066 L1179 1076 Q1179 1080 1184 1082 L1212 1092 Q1220 1094 1226 1092 L1319 1062 Q1324.500 1060 1324.500 1056 L1324.500 1050 L1220 1079 Z" fill="url(#gt_orange)"/><path d="M1179 1068 L1179 1076 Q1179 1080 1184 1082 L1212 1092 Q1214 1092.700 1215.500 1092.900 L1215.500 1079 Z" fill="#96583c"/><path d="M1183 1063.500 Q1177 1066 1184 1068.500 L1211 1078 Q1220 1080.500 1229 1078 L1319 1053 Q1327 1050 1320 1048 L1290 1040.500 Q1283 1039 1275 1041 Z" fill="#ffa777"/></g>
<path d="M1165 59 H1183.7 V61.6 H1170.7 V134.8 H1183.7 V137.4 H1165 Z" fill="#808080"/>
<path d="M1974.6 57.4 H1955.6 V60 H1968.6 V133.4 H1955.6 V136 H1974.6 Z" fill="#808080"/>
<rect x="1983" y="64.6" width="20.5" height="2.2" fill="#808080"/>
<path d="M927.9 240.7 H946.8 V243.3 H933.8 V317.4 H946.8 V320 H927.9 Z" fill="#808080"/>
<path d="M1610 120 H1591 V122.6 H1604 V196.6 H1591 V199.2 H1610 Z" fill="#808080"/>
<path d="M1617 135.500 H1637 M1627 126 V146" stroke="#808080" stroke-width="2.2" fill="none"/>
<path d="M933.8 540.3 H952.7 V542.9 H939.7 V616.7 H952.7 V619.3 H933.8 Z" fill="#808080"/>
<path d="M1607.7 402 H1589.1 V404.6 H1602.1 V479.1 H1589.1 V481.7 H1607.7 Z" fill="#808080"/>
<text id="ast1" x="1630" y="444.3" font-size="38" font-family="DejaVu Sans, sans-serif" fill="#808080" text-anchor="middle">*</text>
<path d="M937 823.3 H956 V825.9 H943 V900 H956 V902.6 H937 Z" fill="#808080"/>
<path d="M1614.8 689 H1596 V691.6 H1609 V763.1 H1596 V765.7 H1614.8 Z" fill="#808080"/>
<text id="ast2" x="1635" y="732.7" font-size="38" font-family="DejaVu Sans, sans-serif" fill="#808080" text-anchor="middle">*</text>
<path transform="translate(0,0)" d="M1399.400 833.100 L1364.600 859.800 L1388.400 859.300 Q1386 885 1380.600 904.400 Q1390 896.600 1399.400 896.600 Q1409 896.600 1418.300 903.600 Q1412 880 1410.900 858.500 L1434.300 860.200 Z" fill="#fff" stroke="#ed7d31" stroke-width="4.8" stroke-linejoin="miter" stroke-miterlimit="8"/>
<path transform="translate(0,-284.2)" d="M1399.400 833.100 L1364.600 859.800 L1388.400 859.300 Q1386 885 1380.600 904.400 Q1390 896.600 1399.400 896.600 Q1409 896.600 1418.300 903.600 Q1412 880 1410.900 858.500 L1434.300 860.200 Z" fill="#fff" stroke="#ed7d31" stroke-width="4.8" stroke-linejoin="miter" stroke-miterlimit="8"/>
<path transform="translate(0,-578.8)" d="M1399.400 833.100 L1364.600 859.800 L1388.400 859.300 Q1386 885 1380.600 904.400 Q1390 896.600 1399.400 896.600 Q1409 896.600 1418.300 903.600 Q1412 880 1410.900 858.500 L1434.300 860.200 Z" fill="#fff" stroke="#ed7d31" stroke-width="4.8" stroke-linejoin="miter" stroke-miterlimit="8"/>
<text x="1237" y="313.3" font-size="31.4" fill="#000" text-anchor="start" >&lt;4 ns</text>
<text x="1464" y="312.8" font-size="31.4" fill="#000" text-anchor="start" >SBCS</text>
<text x="1239" y="603" font-size="31.4" fill="#000" text-anchor="start" >2~71 ps</text>
<text x="1462" y="603" font-size="31.4" fill="#000" text-anchor="start" >Intra-charge Transfer</text>
<text x="1240" y="893" font-size="31.4" fill="#000" text-anchor="start" >&lt;200 fs</text>
<text x="1462" y="893" font-size="31.4" fill="#000" text-anchor="start" >Excitation</text>
<text x="1248" y="475.5" font-size="34" fill="#000">δ<tspan font-size="27" dy="-11">+</tspan></text>
<text x="1442" y="512" font-size="34" fill="#000">δ<tspan font-size="33" dy="-7.5">−</tspan></text>
<text x="1104" y="600" font-size="34" fill="#000">δ<tspan font-size="33" dy="-7.5">−</tspan></text>
<defs><linearGradient id="gw1" gradientUnits="userSpaceOnUse" x1="0" y1="969" x2="0" y2="1093"><stop offset="0" stop-color="#f1e6e0"/><stop offset="0.25" stop-color="#f0c4a8"/><stop offset="0.5" stop-color="#ee9c66"/><stop offset="0.66" stop-color="#ed7d31"/><stop offset="0.8" stop-color="#ea982c"/><stop offset="1" stop-color="#f4c030"/></linearGradient><linearGradient id="gw2" gradientUnits="userSpaceOnUse" x1="0" y1="37" x2="0" y2="165"><stop offset="0" stop-color="#e6e2e0"/><stop offset="0.22" stop-color="#f0c0a6"/><stop offset="0.45" stop-color="#ee9c66"/><stop offset="0.62" stop-color="#ed7d31"/><stop offset="0.78" stop-color="#ea982c"/><stop offset="1" stop-color="#f4c030"/></linearGradient></defs>
<path d="M939.7 969.7 C941.8 974.5 941.2 975.6 946 984 C950.8 992.4 947.4 989.3 954 995 C960.6 1000.7 966.6 993.5 965.9 1001.2 C965.2 1008.9 961.2 1007.1 952 1018 C942.8 1028.9 933.7 1030.3 938.4 1034 C943.1 1037.7 947.2 1032.1 966 1029 C984.8 1025.9 991.1 1020.5 994.8 1024.8 C998.5 1029.1 988.4 1030.6 977 1042 C965.6 1053.4 960.4 1052.2 960.7 1058.9 C961 1065.6 966.9 1057.3 978 1062 C989.1 1066.7 988.7 1069.3 994 1073" fill="none" stroke="url(#gw1)" stroke-width="9.6" stroke-linejoin="round" stroke-linecap="butt"/><path d="M975.5 1073.5 L1002.5 1061 L1000 1093.5 Z" fill="url(#gw1)"/>
<path d="M207.5 37.5 C210.3 42.3 209.5 44.2 216 52 C222.5 59.8 218.6 56.6 227 61 C235.4 65.4 239.8 56.6 241.1 65.3 C242.4 74 237.3 72.6 231 87 C224.7 101.4 215.9 103.9 222.2 108.6 C228.5 113.3 231.1 106 250 101 C268.9 96 273.8 89.8 278.8 93.5 C283.8 97.2 273.8 99.4 265 112 C256.2 124.6 249.4 123.8 252.4 131.3 C255.4 138.8 259.1 128.9 274 134.5 C288.9 140.1 289.3 143.5 297 148" fill="none" stroke="url(#gw2)" stroke-width="8.8" stroke-linejoin="round" stroke-linecap="butt"/><path d="M282.5 146.5 L306 139.5 L301.5 165.5 Z" fill="url(#gw2)"/>
<defs>
<radialGradient id="sW" cx="0.34" cy="0.6" r="0.76"><stop offset="0" stop-color="#ffffff"/><stop offset="0.22" stop-color="#f7f7f7"/><stop offset="0.45" stop-color="#d2d2d2"/><stop offset="0.68" stop-color="#a8a8a8"/><stop offset="0.88" stop-color="#8a8a8a"/><stop offset="1" stop-color="#7a7a7a"/></radialGradient>
<radialGradient id="sB" cx="0.42" cy="0.58" r="0.64"><stop offset="0" stop-color="#2c8af0"/><stop offset="0.25" stop-color="#186fd0"/><stop offset="0.6" stop-color="#0f58a6"/><stop offset="0.85" stop-color="#0a3f7c"/><stop offset="1" stop-color="#072c5a"/></radialGradient>
<radialGradient id="sO" cx="0.6" cy="0.7" r="0.8"><stop offset="0" stop-color="#f7c02c"/><stop offset="0.3" stop-color="#eda013"/><stop offset="0.7" stop-color="#c9830f"/><stop offset="1" stop-color="#8a5c0c"/></radialGradient>
<radialGradient id="sR" cx="0.35" cy="0.7" r="0.8"><stop offset="0" stop-color="#f53a28"/><stop offset="0.4" stop-color="#d42a1e"/><stop offset="0.8" stop-color="#a01a14"/><stop offset="1" stop-color="#7a100c"/></radialGradient>
<radialGradient id="sP" cx="0.42" cy="0.68" r="0.7"><stop offset="0" stop-color="#a564d8"/><stop offset="0.3" stop-color="#7434a6"/><stop offset="0.7" stop-color="#4e2078"/><stop offset="1" stop-color="#361456"/></radialGradient>
<radialGradient id="sG" cx="0.36" cy="0.64" r="0.72"><stop offset="0" stop-color="#ffffff"/><stop offset="0.3" stop-color="#fafafa"/><stop offset="0.52" stop-color="#c8c8c8"/><stop offset="0.76" stop-color="#888888"/><stop offset="1" stop-color="#5c5c5c"/></radialGradient>
<radialGradient id="sB2" cx="0.4" cy="0.63" r="0.68"><stop offset="0" stop-color="#2f8ef2"/><stop offset="0.12" stop-color="#1f7ade"/><stop offset="0.4" stop-color="#1262ba"/><stop offset="0.75" stop-color="#0c4a90"/><stop offset="1" stop-color="#08305e"/></radialGradient>
<linearGradient id="gUp" x1="0" y1="0" x2="0" y2="1"><stop offset="0" stop-color="#ec7c30"/><stop offset="0.35" stop-color="#ee8a3c"/><stop offset="1" stop-color="#fbd49a"/></linearGradient>
</defs>
<path d="M392 363.5 L400.1 371.6 Q402.7 374.1 396.6 379.2 L383.2 390.4 Q377.1 395.5 381.7 401.6 L391.7 414.9 Q396.3 421 389.7 425.6 L375.2 435.6 Q368.6 440.2 371.1 442.8 L379.2 450.9" fill="none" stroke="#b9b5b6" stroke-width="12.5" stroke-linejoin="round" stroke-linecap="butt"/><path d="M306 220 L292.5 217 Q288.2 216.1 285 212 L278.2 203.2 Q275 199.1 269.6 205 L257.8 217.8 Q252.4 223.7 247.9 216 L238 199.3 Q233.5 191.6 227.2 197.5 L213.4 210.2 Q207.1 216.1 203 208 L194.3 190.3 Q190.2 182.2 187 184.2 L177 190.7" fill="none" stroke="#b9b5b6" stroke-width="12.5" stroke-linejoin="round" stroke-linecap="butt"/><circle cx="444.9" cy="157.6" r="33.2" fill="url(#sB)"/><circle cx="501.3" cy="227.3" r="28.8" fill="url(#sB)"/><circle cx="316.5" cy="269.3" r="25.4" fill="url(#sB)"/><circle cx="372.9" cy="333.5" r="33.2" fill="url(#sB)"/><circle cx="411" cy="339.9" r="27.7" fill="url(#sB)"/><circle cx="488" cy="309.1" r="28.8" fill="url(#sB)"/><circle cx="313.2" cy="225.1" r="20.4" fill="url(#sW)"/><circle cx="386.2" cy="155.4" r="29.9" fill="url(#sW)"/><circle cx="388.4" cy="183.5" r="22.1" fill="url(#sB)"/><circle cx="432.7" cy="169.7" r="31" fill="url(#sW)"/><circle cx="338" cy="192.3" r="29.9" fill="url(#sO)"/><circle cx="473" cy="191.9" r="27.7" fill="url(#sR)"/><circle cx="377.4" cy="198.5" r="33.2" fill="url(#sW)"/><circle cx="432.7" cy="216.2" r="34.3" fill="url(#sP)"/><circle cx="480.3" cy="233.9" r="28.8" fill="url(#sW)"/><circle cx="339.7" cy="242.8" r="31" fill="url(#sW)"/><circle cx="384" cy="251.6" r="33.2" fill="url(#sB)"/><circle cx="497.5" cy="283.5" r="29.9" fill="url(#sW)"/><circle cx="459.2" cy="289.2" r="31" fill="url(#sB)"/><circle cx="421.6" cy="260.5" r="33.2" fill="url(#sW)"/><circle cx="344.2" cy="302.5" r="31" fill="url(#sW)"/><circle cx="448.4" cy="327.1" r="29.9" fill="url(#sW)"/><circle cx="397.3" cy="309.1" r="35.4" fill="url(#sB)"/><path d="M391 131 L391.8 122.6 Q392 120 396.1 117.7 L404.8 112.8 Q408.9 110.5 403.9 105.5 L393.2 94.8 Q388.2 89.8 395 86.2 L409.7 78.3 Q416.5 74.7 411.5 69.3 L400.7 57.4 Q395.7 52 402.5 49.3 L417.2 43.4 Q424 40.7 422.6 38.2 L418.3 30.4" fill="none" stroke="#b9b5b6" stroke-width="12.5" stroke-linejoin="round" stroke-linecap="butt"/><path d="M441.3 160.2 L455.9 153.7 Q460.5 151.6 458.5 145.5 L454 132.2 Q452 126.1 458.1 125.6 L471.4 124.4 Q477.5 123.9 475 117.8 L469.4 104.5 Q466.9 98.4 473.5 97.9 L488 96.7 Q494.6 96.2 494.1 93.9 L492.5 86.6" fill="none" stroke="#b9b5b6" stroke-width="12.5" stroke-linejoin="round" stroke-linecap="butt"/><path d="M369.3 191.6 L367.9 174.4 Q367.4 169 362 168.1 L350.2 166.1 Q344.8 165.2 346.6 159.3 L350.5 146.6 Q352.3 140.7 346 139.8 L332.3 137.8 Q326 136.9 327.8 131 L331.7 118.3 Q333.5 112.4 331.7 111.9 L326 110.5" fill="none" stroke="#b9b5b6" stroke-width="12.5" stroke-linejoin="round" stroke-linecap="butt"/><path d="M490.3 219.8 L511.4 223.1 Q518 224.1 522.1 217.5 L531 203 Q535.1 196.4 540.7 200.2 L552.9 208.6 Q558.5 212.4 563.1 205.2 L573.1 189.7 Q577.7 182.5 583.8 186.3 L597.2 194.7 Q603.3 198.5 605.1 195.4 L610.8 185.7" fill="none" stroke="#b9b5b6" stroke-width="12.5" stroke-linejoin="round" stroke-linecap="butt"/><path d="M509.5 279.5 L519.2 280.3 Q522.3 280.6 526.4 284.4 L535.3 292.8 Q539.4 296.6 545 290.5 L557.2 277.1 Q562.8 271 568.2 277.1 L579.8 290.5 Q585.2 296.6 590.6 290.5 L602.2 277.1 Q607.6 271 613.2 277.1 L625.4 290.5 Q631 296.6 633.6 293.8 L641.7 284.8" fill="none" stroke="#b9b5b6" stroke-width="12.5" stroke-linejoin="round" stroke-linecap="butt"/><path d="M335.5 249.4 L321.7 245.4 Q317.4 244.1 315.1 250.5 L310.1 264.4 Q307.8 270.8 303 267.7 L292.4 261.1 Q287.6 258 286.8 265.2 L285.2 280.6 Q284.4 287.8 279 284 L267.4 275.6 Q262 271.8 261 274.6 L257.7 283.5" fill="none" stroke="#b9b5b6" stroke-width="12.5" stroke-linejoin="round" stroke-linecap="butt"/><path d="M332.3 320.8 L325.8 332.2 Q323.8 335.8 320.2 336.6 L312.5 338.2 Q308.9 339 311.4 347.4 L317 365.7 Q319.5 374.1 312.3 377.2 L296.9 383.8 Q289.7 386.9 292.2 394.6 L297.8 411.2 Q300.3 418.9 292.9 422 L276.8 428.6 Q269.4 431.7 270.2 434.8 L272.6 444.5" fill="none" stroke="#b9b5b6" stroke-width="12.5" stroke-linejoin="round" stroke-linecap="butt"/><path d="M458.1 342.2 L463 364.8 Q464.5 372 471.7 372 L487.1 372 Q494.3 372 494.3 379.7 L494.3 396.3 Q494.3 404 501.7 404 L517.8 404 Q525.2 404 525.2 411.7 L525.2 428.3 Q525.2 436 527.5 436 L534.8 436" fill="none" stroke="#b9b5b6" stroke-width="12.5" stroke-linejoin="round" stroke-linecap="butt"/><path d="M428.5 267.8 L438.2 252.4 Q441.3 247.6 442.8 251.7 L446.2 260.5 Q447.7 264.6 450.3 258 L455.8 243.5 Q458.4 236.9 460.4 245.6 L464.9 264.4 Q466.9 273.1 467.4 266.5 L468.5 252 Q469 245.4 472.1 249.5 L481.8 262.5" fill="none" stroke="#b9b5b6" stroke-width="12.5" stroke-linejoin="round" stroke-linecap="butt"/>
<text x="45.5" y="268.9" font-size="31.6" fill="#000" text-anchor="start" >IT-PMI NPs</text>
<text x="40.3" y="711.5" font-size="31.4" fill="#000" text-anchor="start" >PS-PEG-COOH</text>
<text x="48.5" y="1161.5" font-size="32.2" fill="#000" text-anchor="start" >IT-PMI</text>
<path d="M401.200 480.800 L436 515 L410.900 511.500 Q414 545 418.800 569.500 Q410 565 401.200 565 Q393 565 384.500 569.500 Q389 545 392.400 511.500 L367 515 Z" fill="url(#gUp)"/>
<path d="M368.9 664.8 L398 681.5 L398 714.9 L368.9 731.7 L339.4 714.9 L339.4 681.5 Z" fill="#d2d5d5" stroke="#8e8e8e" stroke-width="1.7" stroke-linejoin="round"/><path d="M435.8 663.8 L464.9 680.5 L464.9 714.4 L435.8 731.3 L406.2 714.4 L406.2 680.5 Z" fill="#d2d5d5" stroke="#8e8e8e" stroke-width="1.7" stroke-linejoin="round"/><path d="M370.3 671.8L391.2 683.8 M391.2 712.6L370.3 724.6 M344.8 710.3L344.8 686.2 M459.5 685.2L459.5 709.6 M434.3 724.2L413.1 712 M413 682.9L434.3 670.8 M313.8 630.3L342.3 614.6 M342.3 614.6L368.9 630.3 M368.9 630.3L401.3 614.6 M401.3 614.6L435.8 630.3 M435.8 630.3L483 614.6 M368.9 630.3L368.9 664.8 M435.8 630.3L435.8 663.8 M368.9 731.7L368.9 765.1 M368.9 765.1L397.8 781.8 M397.8 781.8L427.3 765.1 M427.3 765.1L456.8 781.8 M456.8 781.8L477.1 770.4 M495.4 771L514.5 781.8 M514.5 781.8L544.6 765.1 M544.6 765.1L573.5 781.8 M573.5 781.8L592.6 771 M571.1 783.8L571.1 804.9 M575.9 783.8L575.9 804.9" fill="none" stroke="#8e8e8e" stroke-width="1.7" stroke-linecap="round" stroke-linejoin="round"/><path d="M337.4 609.7 Q329.1 623.4 337.4 637.2" fill="none" stroke="#8e8e8e" stroke-width="1.2"/><path d="M378.7 609.7 Q387 623.4 378.7 637.2" fill="none" stroke="#8e8e8e" stroke-width="1.2"/><path d="M424.4 608.7 Q416.1 622.8 424.4 636.8" fill="none" stroke="#8e8e8e" stroke-width="1.2"/><path d="M446 608.7 Q454.3 622.8 446 636.8" fill="none" stroke="#8e8e8e" stroke-width="1.2"/><path d="M470.8 760.8 Q462.5 772 470.8 783.2" fill="none" stroke="#8e8e8e" stroke-width="1.2"/><path d="M550.3 760.8 Q558.5 771.6 550.3 782.4" fill="none" stroke="#8e8e8e" stroke-width="1.2"/><path d="M331.1 602.6 L327.5 602.6 L327.5 646.1 L331.1 646.1" fill="none" stroke="#a0a0a0" stroke-width="1.1"/><path d="M475.7 600.2 L479.1 600.2 L479.1 643.5 L475.7 643.5" fill="none" stroke="#a0a0a0" stroke-width="1.1"/><text x="386.6" y="648.4" font-size="18.5" fill="#8a8a8a" text-anchor="middle" >x</text><text x="461.7" y="648.4" font-size="18.5" fill="#8a8a8a" text-anchor="middle" >1-x</text><text x="488.3" y="648.4" font-size="18.5" fill="#8a8a8a" text-anchor="middle" >n</text><text x="559.1" y="790.7" font-size="18.5" fill="#8a8a8a" text-anchor="middle" >y</text><text x="485.9" y="774.4" font-size="20.5" fill="#8a8a8a" text-anchor="middle" >O</text><text x="609.9" y="774" font-size="20.5" fill="#8a8a8a" text-anchor="middle" >OH</text><text x="573.5" y="823.6" font-size="20.5" fill="#8a8a8a" text-anchor="middle" >O</text>
<path d="M688 702.7 L699.6 704.8 Q703.2 705.5 705.9 708.7 L711.6 715.8 Q714.3 719 718.3 711.9 L727.1 696.6 Q731.1 689.5 735.8 696.8 L745.9 712.7 Q750.6 720 755.3 713 L765.4 698 Q770.1 691 774.8 697.7 L784.9 712.3 Q789.6 719 792 716.1 L799.4 706.9" fill="none" stroke="#b9b5b6" stroke-width="12.5" stroke-linejoin="round" stroke-linecap="butt"/>
<circle cx="655.2" cy="697.6" r="35.7" fill="url(#sG)"/>
<circle cx="657.6" cy="929.9" r="36" fill="url(#sB2)"/>
<path d="M380.600 859 H428.500 M404.300 835.800 V882.900" stroke="#a6a6a6" stroke-width="8.6" fill="none"/>
<path d="M283.2 1053.5L271.3 1032.8 M271.3 1032.8L247.3 1032.8 M247.3 1032.8L235.4 1053.5 M235.4 1053.5L247.3 1074.2 M247.3 1074.2L271.3 1074.2 M271.3 1074.2L283.2 1053.5 M283.2 1094.9L271.3 1074.2 M247.3 1074.2L235.4 1094.9 M235.4 1094.9L247.3 1115.6 M247.3 1115.6L271.3 1115.6 M271.3 1115.6L283.2 1094.9 M355 1053.5L343.1 1032.8 M343.1 1032.8L319.1 1032.8 M319.1 1032.8L307.2 1053.5 M307.2 1053.5L319.1 1074.2 M319.1 1074.2L343.1 1074.2 M343.1 1074.2L355 1053.5 M355 1094.9L343.1 1074.2 M319.1 1074.2L307.2 1094.9 M307.2 1094.9L319.1 1115.6 M319.1 1115.6L343.1 1115.6 M343.1 1115.6L355 1094.9 M307.2 1053.5L283.2 1053.5 M283.2 1094.9L307.2 1094.9 M235.4 1053.5L211.4 1053.5 M211.4 1053.5L203.8 1066.7 M209.7 1054L202.2 1042.3 M212.6 1052.1L205 1040.4 M235.4 1094.9L211.4 1094.9 M211.4 1094.9L203.8 1081.7 M212.6 1096.3L205 1108 M209.7 1094.4L202.2 1106.1 M250.5 1036.4L268.2 1036.4 M240 1054.4L248.9 1069.7 M278.6 1054.4L269.7 1069.7 M240 1095.8L248.9 1111.2 M278.6 1095.8L269.7 1111.2 M322.2 1036.4L339.9 1036.4 M311.8 1054.4L320.7 1069.7 M350.4 1054.4L341.5 1069.7 M311.8 1095.8L320.7 1111.2 M350.4 1095.8L341.5 1111.2 M191.7 1074.2L160.8 1074.2 M160.8 1074.2L148.8 1053.5 M148.8 1053.5L124.9 1053.5 M124.9 1053.5L112.9 1074.2 M112.9 1074.2L124.9 1094.9 M124.9 1094.9L148.8 1094.9 M148.8 1094.9L160.8 1074.2 M156.1 1073.3L147.3 1058 M126.5 1058L117.6 1073.3 M128 1091.3L145.7 1091.3 M148.8 1053.5L160.8 1032.8 M160.8 1032.8L184.7 1032.8 M160.8 1032.8L148.8 1012.4 M148.8 1094.9L160.8 1115.6 M160.8 1115.6L184.7 1115.6 M160.8 1115.6L148.8 1136" fill="none" stroke="#8a8af0" stroke-width="1.5" stroke-linecap="round" stroke-linejoin="round"/><text x="199.5" y="1080" font-size="16.5" fill="#8a8af0" text-anchor="middle" >N</text><text x="199" y="1040" font-size="16.5" fill="#8a8af0" text-anchor="middle" >O</text><text x="199" y="1120" font-size="16.5" fill="#8a8af0" text-anchor="middle" >O</text>
<path d="M702 1085.2L713.9 1064.5 M713.9 1064.5L737.9 1064.5 M737.9 1064.5L749.8 1085.2 M749.8 1085.2L737.9 1105.9 M737.9 1105.9L713.9 1105.9 M713.9 1105.9L702 1085.2 M702 1126.6L713.9 1105.9 M737.9 1105.9L749.8 1126.6 M749.8 1126.6L737.9 1147.3 M737.9 1147.3L713.9 1147.3 M713.9 1147.3L702 1126.6 M630.2 1085.2L642.1 1064.5 M642.1 1064.5L666.1 1064.5 M666.1 1064.5L678 1085.2 M678 1085.2L666.1 1105.9 M666.1 1105.9L642.1 1105.9 M642.1 1105.9L630.2 1085.2 M630.2 1126.6L642.1 1105.9 M666.1 1105.9L678 1126.6 M678 1126.6L666.1 1147.3 M666.1 1147.3L642.1 1147.3 M642.1 1147.3L630.2 1126.6 M678 1085.2L702 1085.2 M702 1126.6L678 1126.6 M749.8 1085.2L773.8 1085.2 M773.8 1085.2L781.4 1098.4 M772.6 1083.8L780.2 1072.1 M775.5 1085.7L783 1074 M749.8 1126.6L773.8 1126.6 M773.8 1126.6L781.4 1113.4 M775.5 1126.1L783 1137.8 M772.6 1128L780.2 1139.7 M634.8 1084.3L643.7 1068.9 M664.5 1068.9L673.4 1084.3 M634.8 1125.7L643.7 1110.4 M664.5 1110.4L673.4 1125.7 M645.3 1143.7L663 1143.7 M706.6 1084.3L715.5 1068.9 M736.3 1068.9L745.2 1084.3 M706.6 1125.7L715.5 1110.4 M736.3 1110.4L745.2 1125.7 M717 1143.7L734.7 1143.7 M793.5 1105.9L824.4 1105.9 M824.4 1105.9L836.4 1085.2 M836.4 1085.2L860.3 1085.2 M860.3 1085.2L872.3 1105.9 M872.3 1105.9L860.3 1126.6 M860.3 1126.6L836.4 1126.6 M836.4 1126.6L824.4 1105.9 M839.5 1088.8L857.2 1088.8 M867.6 1106.8L858.7 1122.1 M837.9 1122.1L829.1 1106.8 M836.4 1085.2L824.4 1064.5 M824.4 1064.5L800.5 1064.5 M824.4 1064.5L836.4 1044.1 M836.4 1126.6L824.4 1147.3 M824.4 1147.3L800.5 1147.3 M824.4 1147.3L836.4 1167.7" fill="none" stroke="#8a8af0" stroke-width="1.5" stroke-linecap="round" stroke-linejoin="round"/><text x="785.7" y="1111.7" font-size="16.5" fill="#8a8af0" text-anchor="middle" >N</text><text x="786.2" y="1071.7" font-size="16.5" fill="#8a8af0" text-anchor="middle" >O</text><text x="786.2" y="1151.7" font-size="16.5" fill="#8a8af0" text-anchor="middle" >O</text>
<path d="M374.5 1051.9L388.5 1042.1 M398.6 1042.1L411.8 1051.9 M411.8 1051.9L405.8 1074.7 M405.8 1074.7L382 1074.7 M382 1074.7L374.5 1051.9 M411.8 1051.9L436.9 1051.2 M436.9 1051.2L443.8 1074.7 M443.8 1074.7L429.8 1085.2 M419.5 1085.2L405.8 1074.7 M436.9 1051.2L455.5 1038 M455.5 1038L474.6 1051.2 M474.6 1051.2L468.3 1074.7 M468.3 1074.7L443.8 1074.7 M474.6 1051.2L498.1 1045.5 M498.1 1045.5L515.1 1063.6 M515.1 1063.6L508.7 1087 M508.7 1087L484.7 1092.3 M484.7 1092.3L468.3 1074.7 M515.1 1063.6L539.6 1063.6 M539.6 1063.6L546 1086.6 M546 1086.6L527.3 1101.9 M527.3 1101.9L508.7 1087 M539.6 1063.6L552.9 1053.9 M562.9 1053.8L576.9 1063.2 M576.9 1063.2L570.5 1086.6 M570.5 1086.6L546 1086.6 M576.9 1063.2L602.5 1063.2 M602.5 1063.2L609.5 1086 M609.5 1086L595.5 1096.4 M585 1096.5L570.5 1086.6 M378.7 1053.8L384.2 1070.6 M407.7 1054L403.3 1070.8 M434.6 1055.2L439.6 1072.6 M478.5 1053.8L495.8 1049.5 M511 1065.7L506.3 1083.1 M485 1087.7L472.9 1074.6 M543.7 1065.7L548.5 1082.7 M579.4 1067.1L574.6 1084.4 M600.2 1067.1L605.4 1084 M441.6 1020.5L446.9 997.5 M446.9 997.5L429.9 980.1 M429.9 980.1L406.5 984.7 M406.5 984.7L400.5 1007.8 M400.5 1007.8L417.1 1025.2 M417.1 1025.2L441.6 1020.5 M455.5 1038L441.6 1020.5 M406.5 984.7L399 976.6 M442.3 997.6L429.7 984.7 M409 988.6L404.6 1005.6 M419.7 1021.3L437.8 1017.8 M470.4 1019.9L462.9 997.5 M462.9 997.5L478.9 978.8 M478.9 978.8L502.3 982.6 M502.3 982.6L509.8 1003.9 M509.8 1003.9L494.9 1023.1 M494.9 1023.1L470.4 1019.9 M455.5 1038L470.4 1019.9 M502.3 982.6L511.3 971.5 M472.6 1015.9L467.1 999.4 M481.4 982.6L498.7 985.5 M505.2 1004.3L494.1 1018.5 M513 1119L520.5 1141.3 M520.5 1141.3L505.1 1159.5 M505.1 1159.5L481 1155.6 M481 1155.6L473.6 1132.8 M473.6 1132.8L489.6 1115.1 M489.6 1115.1L513 1119 M527.3 1101.9L513 1119 M481 1155.6L471.9 1166.5 M510.7 1123L516.3 1139.5 M502.5 1155.6L484.7 1152.8 M478.2 1132.8L490 1119.7 M542.8 1117.9L566.3 1113.7 M566.3 1113.7L583.3 1130.7 M583.3 1130.7L576.9 1154.1 M576.9 1154.1L553.5 1158.4 M553.5 1158.4L536.9 1141.3 M536.9 1141.3L542.8 1117.9 M527.3 1101.9L542.8 1117.9 M576.9 1154.1L586.1 1164.4 M566.1 1118.3L578.7 1130.9 M573.3 1151.3L555.9 1154.5 M540.9 1139.1L545.3 1121.8" fill="none" stroke="#f0923a" stroke-width="1.5" stroke-linecap="round" stroke-linejoin="round"/><text x="387.3" y="967.3" font-size="15" fill="#f0923a" text-anchor="middle">C<tspan font-size="10.500" dy="3">6</tspan><tspan dy="-3">H</tspan><tspan font-size="10.500" dy="3">13</tspan></text><text x="532.2" y="969.8" font-size="15" fill="#f0923a" text-anchor="middle">C<tspan font-size="10.500" dy="3">6</tspan><tspan dy="-3">H</tspan><tspan font-size="10.500" dy="3">13</tspan></text><text x="465.7" y="1182.9" font-size="15" fill="#f0923a" text-anchor="middle">C<tspan font-size="10.500" dy="3">6</tspan><tspan dy="-3">H</tspan><tspan font-size="10.500" dy="3">13</tspan></text><text x="607.8" y="1176.5" font-size="15" fill="#f0923a" text-anchor="middle">C<tspan font-size="10.500" dy="3">6</tspan><tspan dy="-3">H</tspan><tspan font-size="10.500" dy="3">13</tspan></text><text x="393.7" y="1043.8" font-size="15.5" fill="#f0923a" text-anchor="middle" >S</text><text x="424.6" y="1094.5" font-size="15.5" fill="#f0923a" text-anchor="middle" >S</text><text x="557.7" y="1055.8" font-size="15.5" fill="#f0923a" text-anchor="middle" >S</text><text x="590.3" y="1105.6" font-size="15.5" fill="#f0923a" text-anchor="middle" >S</text>
<line x1="355" y1="1053.5" x2="374.5" y2="1051.9" stroke="#8a8af0" stroke-width="1.5" stroke-linecap="round"/>
<line x1="630.2" y1="1085.2" x2="609.5" y2="1086" stroke="#8a8af0" stroke-width="1.5" stroke-linecap="round"/></svg></body></html>
